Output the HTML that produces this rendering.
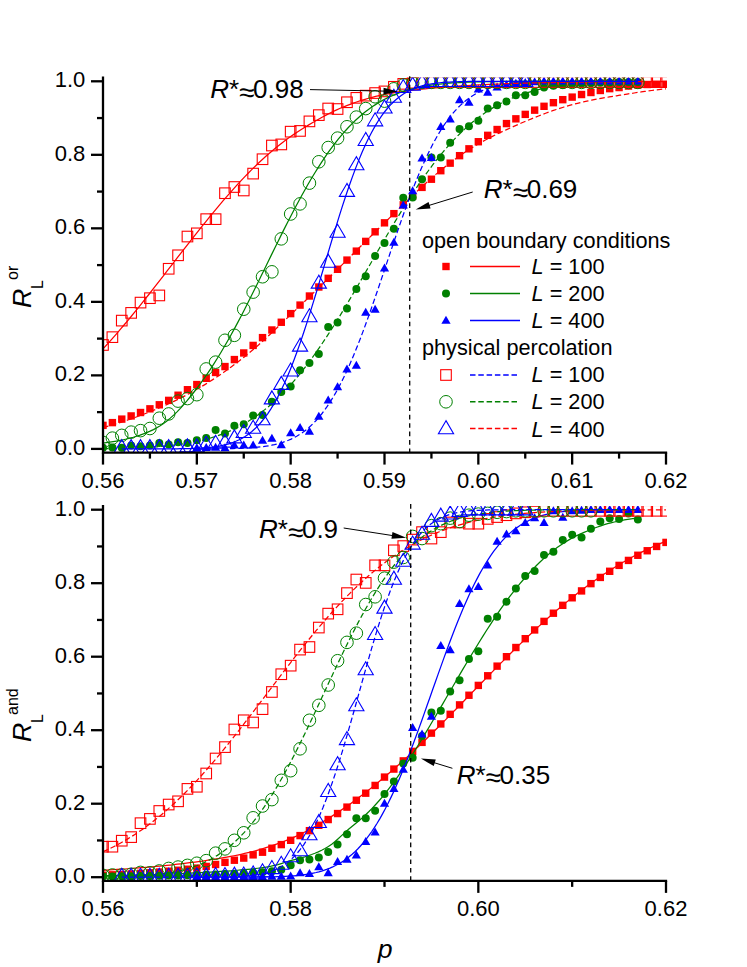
<!DOCTYPE html>
<html><head><meta charset="utf-8"><title>chart</title>
<style>
html,body{margin:0;padding:0;background:#fff;}
body{width:747px;height:967px;position:relative;overflow:hidden;font-family:"Liberation Sans",sans-serif;color:#000;}
i{font-style:italic}
</style></head><body>
<svg width="747" height="967" viewBox="0 0 747 967" style="position:absolute;left:0;top:0">
<defs>
<clipPath id="clip_top"><rect x="103.0" y="77.62" width="564.0" height="374.95"/></clipPath>
<clipPath id="clip_bot"><rect x="103.0" y="506.03" width="564.0" height="374.85"/></clipPath>
</defs>
<g clip-path="url(#clip_top)">
<polyline points="103.00,427.58 106.54,426.60 110.08,425.59 113.62,424.54 117.16,423.46 120.70,422.35 124.25,421.20 127.79,420.01 131.33,418.79 134.87,417.53 138.41,416.24 141.95,414.91 145.49,413.54 149.03,412.13 152.57,410.69 156.11,409.21 159.65,407.71 163.19,406.17 166.74,404.59 170.28,402.98 173.82,401.32 177.36,399.63 180.90,397.88 184.44,396.08 187.98,394.23 191.52,392.33 195.06,390.36 198.60,388.33 202.14,386.24 205.69,384.10 209.23,381.90 212.77,379.64 216.31,377.33 219.85,374.96 223.39,372.53 226.93,370.04 230.47,367.49 234.01,364.87 237.55,362.20 241.09,359.46 244.64,356.66 248.18,353.78 251.72,350.81 255.26,347.77 258.80,344.66 262.34,341.48 265.88,338.24 269.42,334.96 272.96,331.64 276.50,328.28 280.04,324.90 283.58,321.51 287.13,318.11 290.67,314.73 294.21,311.34 297.75,307.96 301.29,304.57 304.83,301.18 308.37,297.78 311.91,294.38 315.45,290.96 318.99,287.53 322.53,284.10 326.08,280.64 329.62,277.17 333.16,273.68 336.70,270.17 340.24,266.65 343.78,263.12 347.32,259.59 350.86,256.07 354.40,252.55 357.94,249.03 361.48,245.52 365.03,242.01 368.57,238.50 372.11,235.00 375.65,231.51 379.19,228.03 382.73,224.56 386.27,221.09 389.81,217.62 393.35,214.14 396.89,210.67 400.43,207.20 403.97,203.75 407.52,200.33 411.06,196.93 414.60,193.56 418.14,190.24 421.68,186.96 425.22,183.73 428.76,180.56 432.30,177.45 435.84,174.40 439.38,171.43 442.92,168.52 446.47,165.69 450.01,162.93 453.55,160.26 457.09,157.67 460.63,155.16 464.17,152.74 467.71,150.40 471.25,148.16 474.79,146.00 478.33,143.93 481.87,141.93 485.42,140.00 488.96,138.14 492.50,136.33 496.04,134.57 499.58,132.86 503.12,131.19 506.66,129.56 510.20,127.95 513.74,126.38 517.28,124.83 520.82,123.30 524.36,121.79 527.91,120.30 531.45,118.83 534.99,117.39 538.53,115.97 542.07,114.60 545.61,113.26 549.15,111.96 552.69,110.71 556.23,109.50 559.77,108.34 563.31,107.23 566.86,106.18 570.40,105.17 573.94,104.22 577.48,103.31 581.02,102.46 584.56,101.66 588.10,100.89 591.64,100.17 595.18,99.47 598.72,98.80 602.26,98.16 605.81,97.54 609.35,96.93 612.89,96.34 616.43,95.77 619.97,95.20 623.51,94.64 627.05,94.09 630.59,93.54 634.13,93.00 637.67,92.47 641.21,91.96 644.75,91.46 648.30,90.97 651.84,90.50 655.38,90.04 658.92,89.60 662.46,89.17 666.00,88.76" fill="none" stroke="#ff0000" stroke-width="1.25" stroke-dasharray="5.5 2.8"/>
<rect x="99.30" y="421.67" width="7.4" height="7.4" fill="#ff0000"/>
<rect x="108.68" y="418.92" width="7.4" height="7.4" fill="#ff0000"/>
<rect x="118.07" y="415.42" width="7.4" height="7.4" fill="#ff0000"/>
<rect x="127.45" y="412.23" width="7.4" height="7.4" fill="#ff0000"/>
<rect x="136.83" y="408.81" width="7.4" height="7.4" fill="#ff0000"/>
<rect x="146.22" y="405.13" width="7.4" height="7.4" fill="#ff0000"/>
<rect x="155.60" y="401.09" width="7.4" height="7.4" fill="#ff0000"/>
<rect x="164.98" y="396.68" width="7.4" height="7.4" fill="#ff0000"/>
<rect x="174.37" y="391.53" width="7.4" height="7.4" fill="#ff0000"/>
<rect x="183.75" y="386.02" width="7.4" height="7.4" fill="#ff0000"/>
<rect x="193.13" y="380.87" width="7.4" height="7.4" fill="#ff0000"/>
<rect x="202.52" y="374.62" width="7.4" height="7.4" fill="#ff0000"/>
<rect x="211.90" y="368.74" width="7.4" height="7.4" fill="#ff0000"/>
<rect x="221.28" y="362.86" width="7.4" height="7.4" fill="#ff0000"/>
<rect x="230.67" y="355.87" width="7.4" height="7.4" fill="#ff0000"/>
<rect x="240.05" y="349.26" width="7.4" height="7.4" fill="#ff0000"/>
<rect x="249.43" y="341.72" width="7.4" height="7.4" fill="#ff0000"/>
<rect x="258.82" y="333.93" width="7.4" height="7.4" fill="#ff0000"/>
<rect x="268.20" y="326.28" width="7.4" height="7.4" fill="#ff0000"/>
<rect x="277.58" y="318.56" width="7.4" height="7.4" fill="#ff0000"/>
<rect x="286.97" y="309.92" width="7.4" height="7.4" fill="#ff0000"/>
<rect x="296.35" y="301.39" width="7.4" height="7.4" fill="#ff0000"/>
<rect x="305.73" y="292.32" width="7.4" height="7.4" fill="#ff0000"/>
<rect x="315.12" y="283.31" width="7.4" height="7.4" fill="#ff0000"/>
<rect x="324.50" y="274.63" width="7.4" height="7.4" fill="#ff0000"/>
<rect x="333.88" y="265.59" width="7.4" height="7.4" fill="#ff0000"/>
<rect x="343.27" y="256.40" width="7.4" height="7.4" fill="#ff0000"/>
<rect x="352.65" y="247.43" width="7.4" height="7.4" fill="#ff0000"/>
<rect x="362.03" y="237.69" width="7.4" height="7.4" fill="#ff0000"/>
<rect x="371.42" y="228.10" width="7.4" height="7.4" fill="#ff0000"/>
<rect x="380.80" y="219.13" width="7.4" height="7.4" fill="#ff0000"/>
<rect x="390.18" y="209.94" width="7.4" height="7.4" fill="#ff0000"/>
<rect x="399.57" y="201.11" width="7.4" height="7.4" fill="#ff0000"/>
<rect x="408.95" y="192.29" width="7.4" height="7.4" fill="#ff0000"/>
<rect x="418.33" y="183.69" width="7.4" height="7.4" fill="#ff0000"/>
<rect x="427.72" y="175.53" width="7.4" height="7.4" fill="#ff0000"/>
<rect x="437.10" y="167.00" width="7.4" height="7.4" fill="#ff0000"/>
<rect x="446.48" y="159.46" width="7.4" height="7.4" fill="#ff0000"/>
<rect x="455.87" y="151.97" width="7.4" height="7.4" fill="#ff0000"/>
<rect x="465.25" y="145.13" width="7.4" height="7.4" fill="#ff0000"/>
<rect x="474.63" y="138.03" width="7.4" height="7.4" fill="#ff0000"/>
<rect x="484.02" y="131.64" width="7.4" height="7.4" fill="#ff0000"/>
<rect x="493.40" y="125.83" width="7.4" height="7.4" fill="#ff0000"/>
<rect x="502.78" y="119.87" width="7.4" height="7.4" fill="#ff0000"/>
<rect x="512.17" y="115.13" width="7.4" height="7.4" fill="#ff0000"/>
<rect x="521.55" y="110.68" width="7.4" height="7.4" fill="#ff0000"/>
<rect x="530.93" y="106.46" width="7.4" height="7.4" fill="#ff0000"/>
<rect x="540.32" y="102.60" width="7.4" height="7.4" fill="#ff0000"/>
<rect x="549.70" y="98.99" width="7.4" height="7.4" fill="#ff0000"/>
<rect x="559.08" y="95.98" width="7.4" height="7.4" fill="#ff0000"/>
<rect x="568.47" y="93.41" width="7.4" height="7.4" fill="#ff0000"/>
<rect x="577.85" y="90.83" width="7.4" height="7.4" fill="#ff0000"/>
<rect x="587.23" y="88.81" width="7.4" height="7.4" fill="#ff0000"/>
<rect x="596.62" y="86.79" width="7.4" height="7.4" fill="#ff0000"/>
<rect x="606.00" y="84.95" width="7.4" height="7.4" fill="#ff0000"/>
<rect x="615.38" y="83.85" width="7.4" height="7.4" fill="#ff0000"/>
<rect x="624.77" y="82.38" width="7.4" height="7.4" fill="#ff0000"/>
<rect x="634.15" y="81.39" width="7.4" height="7.4" fill="#ff0000"/>
<rect x="643.53" y="80.80" width="7.4" height="7.4" fill="#ff0000"/>
<rect x="652.92" y="80.54" width="7.4" height="7.4" fill="#ff0000"/>
<rect x="662.30" y="80.54" width="7.4" height="7.4" fill="#ff0000"/>
<polyline points="103.00,448.61 106.36,448.57 109.73,448.52 113.09,448.47 116.46,448.41 119.82,448.34 123.18,448.26 126.55,448.17 129.91,448.08 133.27,447.97 136.64,447.85 140.00,447.71 143.37,447.56 146.73,447.39 150.09,447.20 153.46,446.99 156.82,446.76 160.19,446.51 163.55,446.23 166.91,445.92 170.28,445.57 173.64,445.20 177.00,444.79 180.37,444.34 183.73,443.84 187.10,443.31 190.46,442.72 193.82,442.08 197.19,441.39 200.55,440.63 203.92,439.82 207.28,438.94 210.64,437.98 214.01,436.96 217.37,435.85 220.73,434.66 224.10,433.39 227.46,432.02 230.83,430.56 234.19,429.00 237.55,427.34 240.92,425.57 244.28,423.69 247.64,421.70 251.01,419.58 254.37,417.35 257.74,414.99 261.10,412.50 264.46,409.88 267.83,407.12 271.19,404.23 274.56,401.20 277.92,398.04 281.28,394.73 284.65,391.28 288.01,387.69 291.37,383.96 294.74,380.09 298.10,376.08 301.47,371.93 304.83,367.65 308.19,363.23 311.56,358.68 314.92,354.00 318.29,349.21 321.65,344.29 325.01,339.26 328.38,334.13 331.74,328.89 335.10,323.56 338.47,318.14 341.83,312.64 345.20,307.06 348.56,301.43 351.92,295.73 355.29,289.99 358.65,284.21 362.02,278.40 365.38,272.56 368.74,266.72 372.11,260.87 375.47,255.03 378.83,249.21 382.20,243.41 385.56,237.64 388.93,231.92 392.29,226.25 395.65,220.64 399.02,215.10 402.38,209.63 405.75,204.25 409.11,198.96 412.47,193.77 415.84,188.68 419.20,183.70 422.56,178.84 425.93,174.09 429.29,169.47 432.66,164.98 436.02,160.62 439.38,156.40 442.75,152.31 446.11,148.36 449.48,144.55 452.84,140.89 456.20,137.36 459.57,133.98 462.93,130.73 466.29,127.63 469.66,124.66 473.02,121.83 476.39,119.14 479.75,116.58 483.11,114.15 486.48,111.84 489.84,109.66 493.21,107.60 496.57,105.66 499.93,103.83 503.30,102.10 506.66,100.49 510.02,98.97 513.39,97.56 516.75,96.23 520.12,95.00 523.48,93.85 526.84,92.78 530.21,91.78 533.57,90.86 536.93,90.01 540.30,89.22 543.66,88.50 547.03,87.83 550.39,87.21 553.75,86.65 557.12,86.13 560.48,85.66 563.85,85.22 567.21,84.83 570.57,84.47 573.94,84.14 577.30,83.84 580.66,83.58 584.03,83.33 587.39,83.11 590.76,82.91 594.12,82.73 597.48,82.57 600.85,82.43 604.21,82.30 607.58,82.18 610.94,82.08 614.30,81.99 617.67,81.90 621.03,81.83 624.39,81.77 627.76,81.71 631.12,81.66 634.49,81.61 637.85,81.57" fill="none" stroke="#008000" stroke-width="1.25" stroke-dasharray="5.5 2.8"/>
<circle cx="103.00" cy="447.80" r="4.0" fill="#008000"/>
<circle cx="112.38" cy="447.43" r="4.0" fill="#008000"/>
<circle cx="121.77" cy="447.80" r="4.0" fill="#008000"/>
<circle cx="131.15" cy="445.59" r="4.0" fill="#008000"/>
<circle cx="140.53" cy="446.33" r="4.0" fill="#008000"/>
<circle cx="149.92" cy="445.59" r="4.0" fill="#008000"/>
<circle cx="159.30" cy="443.02" r="4.0" fill="#008000"/>
<circle cx="168.68" cy="444.49" r="4.0" fill="#008000"/>
<circle cx="178.07" cy="442.28" r="4.0" fill="#008000"/>
<circle cx="187.45" cy="443.02" r="4.0" fill="#008000"/>
<circle cx="196.83" cy="440.22" r="4.0" fill="#008000"/>
<circle cx="206.22" cy="438.09" r="4.0" fill="#008000"/>
<circle cx="215.60" cy="429.97" r="4.0" fill="#008000"/>
<circle cx="224.98" cy="433.61" r="4.0" fill="#008000"/>
<circle cx="234.37" cy="425.67" r="4.0" fill="#008000"/>
<circle cx="243.75" cy="424.16" r="4.0" fill="#008000"/>
<circle cx="253.13" cy="415.41" r="4.0" fill="#008000"/>
<circle cx="262.52" cy="415.08" r="4.0" fill="#008000"/>
<circle cx="271.90" cy="401.70" r="4.0" fill="#008000"/>
<circle cx="281.28" cy="392.03" r="4.0" fill="#008000"/>
<circle cx="290.67" cy="386.48" r="4.0" fill="#008000"/>
<circle cx="300.05" cy="370.23" r="4.0" fill="#008000"/>
<circle cx="309.43" cy="362.88" r="4.0" fill="#008000"/>
<circle cx="318.82" cy="353.91" r="4.0" fill="#008000"/>
<circle cx="328.20" cy="327.11" r="4.0" fill="#008000"/>
<circle cx="337.58" cy="322.41" r="4.0" fill="#008000"/>
<circle cx="346.97" cy="308.48" r="4.0" fill="#008000"/>
<circle cx="356.35" cy="288.99" r="4.0" fill="#008000"/>
<circle cx="365.73" cy="276.13" r="4.0" fill="#008000"/>
<circle cx="375.12" cy="255.98" r="4.0" fill="#008000"/>
<circle cx="384.50" cy="243.12" r="4.0" fill="#008000"/>
<circle cx="393.88" cy="228.71" r="4.0" fill="#008000"/>
<circle cx="403.27" cy="197.83" r="4.0" fill="#008000"/>
<circle cx="412.65" cy="197.46" r="4.0" fill="#008000"/>
<circle cx="422.03" cy="179.23" r="4.0" fill="#008000"/>
<circle cx="431.42" cy="157.39" r="4.0" fill="#008000"/>
<circle cx="440.80" cy="157.39" r="4.0" fill="#008000"/>
<circle cx="450.18" cy="142.84" r="4.0" fill="#008000"/>
<circle cx="459.57" cy="128.90" r="4.0" fill="#008000"/>
<circle cx="468.95" cy="126.15" r="4.0" fill="#008000"/>
<circle cx="478.33" cy="120.78" r="4.0" fill="#008000"/>
<circle cx="487.72" cy="108.58" r="4.0" fill="#008000"/>
<circle cx="497.10" cy="105.34" r="4.0" fill="#008000"/>
<circle cx="506.48" cy="101.52" r="4.0" fill="#008000"/>
<circle cx="515.87" cy="95.27" r="4.0" fill="#008000"/>
<circle cx="525.25" cy="95.27" r="4.0" fill="#008000"/>
<circle cx="534.63" cy="92.07" r="4.0" fill="#008000"/>
<circle cx="544.02" cy="87.55" r="4.0" fill="#008000"/>
<circle cx="553.40" cy="85.71" r="4.0" fill="#008000"/>
<circle cx="562.78" cy="84.98" r="4.0" fill="#008000"/>
<circle cx="572.17" cy="84.24" r="4.0" fill="#008000"/>
<circle cx="581.55" cy="83.87" r="4.0" fill="#008000"/>
<circle cx="590.93" cy="83.14" r="4.0" fill="#008000"/>
<circle cx="600.32" cy="82.77" r="4.0" fill="#008000"/>
<circle cx="609.70" cy="82.40" r="4.0" fill="#008000"/>
<circle cx="619.08" cy="82.04" r="4.0" fill="#008000"/>
<circle cx="628.47" cy="82.04" r="4.0" fill="#008000"/>
<circle cx="637.85" cy="82.04" r="4.0" fill="#008000"/>
<polyline points="196.83,448.88 199.61,448.87 202.38,448.87 205.15,448.86 207.93,448.85 210.70,448.83 213.48,448.82 216.25,448.80 219.02,448.78 221.80,448.75 224.57,448.71 227.34,448.67 230.12,448.62 232.89,448.56 235.66,448.49 238.44,448.41 241.21,448.31 243.99,448.19 246.76,448.05 249.53,447.89 252.31,447.70 255.08,447.48 257.85,447.23 260.63,446.93 263.40,446.59 266.18,446.19 268.95,445.74 271.72,445.22 274.50,444.63 277.27,443.96 280.04,443.20 282.82,442.34 285.59,441.37 288.37,440.29 291.14,439.08 293.91,437.72 296.69,436.22 299.46,434.55 302.23,432.71 305.01,430.68 307.78,428.46 310.55,426.03 313.33,423.37 316.10,420.49 318.88,417.36 321.65,413.99 324.42,410.35 327.20,406.45 329.97,402.27 332.74,397.82 335.52,393.09 338.29,388.07 341.07,382.78 343.84,377.20 346.61,371.34 349.39,365.21 352.16,358.82 354.93,352.18 357.71,345.29 360.48,338.18 363.25,330.85 366.03,323.33 368.80,315.63 371.58,307.78 374.35,299.80 377.12,291.71 379.90,283.54 382.67,275.31 385.44,267.04 388.22,258.77 390.99,250.52 393.77,242.32 396.54,234.18 399.31,226.15 402.09,218.23 404.86,210.46 407.63,202.86 410.41,195.44 413.18,188.22 415.95,181.22 418.73,174.46 421.50,167.95 424.28,161.70 427.05,155.72 429.82,150.01 432.60,144.58 435.37,139.43 438.14,134.56 440.92,129.98 443.69,125.68 446.47,121.65 449.24,117.89 452.01,114.39 454.79,111.15 457.56,108.15 460.33,105.39 463.11,102.86 465.88,100.54 468.65,98.42 471.43,96.49 474.20,94.74 476.98,93.16 479.75,91.74 482.52,90.46 485.30,89.32 488.07,88.30 490.84,87.39 493.62,86.59 496.39,85.87 499.17,85.25 501.94,84.69 504.71,84.21 507.49,83.79 510.26,83.42 513.03,83.11 515.81,82.83 518.58,82.60 521.36,82.39 524.13,82.22 526.90,82.07 529.68,81.94 532.45,81.84 535.22,81.75 538.00,81.67 540.77,81.60 543.54,81.55 546.32,81.51 549.09,81.47 551.87,81.44 554.64,81.41 557.41,81.39 560.19,81.37 562.96,81.36 565.73,81.35 568.51,81.34 571.28,81.33 574.06,81.32 576.83,81.32 579.60,81.32 582.38,81.31 585.15,81.31 587.92,81.31 590.70,81.31 593.47,81.30 596.24,81.30 599.02,81.30 601.79,81.30 604.57,81.30 607.34,81.30 610.11,81.30 612.89,81.30 615.66,81.30 618.43,81.30 621.21,81.30 623.98,81.30 626.76,81.30 629.53,81.30 632.30,81.30 635.08,81.30 637.85,81.30" fill="none" stroke="#0000ff" stroke-width="1.25" stroke-dasharray="5.5 2.8"/>
<polygon points="196.83,443.36 192.23,451.36 201.43,451.36" fill="#0000ff"/>
<polygon points="206.22,443.00 201.62,451.00 210.82,451.00" fill="#0000ff"/>
<polygon points="215.60,442.63 211.00,450.63 220.20,450.63" fill="#0000ff"/>
<polygon points="224.98,443.36 220.38,451.36 229.58,451.36" fill="#0000ff"/>
<polygon points="234.37,440.57 229.77,448.57 238.97,448.57" fill="#0000ff"/>
<polygon points="243.75,440.57 239.15,448.57 248.35,448.57" fill="#0000ff"/>
<polygon points="253.13,440.57 248.53,448.57 257.73,448.57" fill="#0000ff"/>
<polygon points="262.52,435.87 257.92,443.87 267.12,443.87" fill="#0000ff"/>
<polygon points="271.90,433.73 267.30,441.73 276.50,441.73" fill="#0000ff"/>
<polygon points="281.28,440.17 276.68,448.17 285.88,448.17" fill="#0000ff"/>
<polygon points="290.67,428.37 286.07,436.37 295.27,436.37" fill="#0000ff"/>
<polygon points="300.05,423.00 295.45,431.00 304.65,431.00" fill="#0000ff"/>
<polygon points="309.43,426.86 304.83,434.86 314.03,434.86" fill="#0000ff"/>
<polygon points="318.82,411.86 314.22,419.86 323.42,419.86" fill="#0000ff"/>
<polygon points="328.20,395.58 323.60,403.58 332.80,403.58" fill="#0000ff"/>
<polygon points="337.58,382.34 332.98,390.34 342.18,390.34" fill="#0000ff"/>
<polygon points="346.97,364.48 342.37,372.48 351.57,372.48" fill="#0000ff"/>
<polygon points="356.35,360.84 351.75,368.84 360.95,368.84" fill="#0000ff"/>
<polygon points="365.73,307.72 361.13,315.72 370.33,315.72" fill="#0000ff"/>
<polygon points="375.12,304.78 370.52,312.78 379.72,312.78" fill="#0000ff"/>
<polygon points="384.50,263.39 379.90,271.39 389.10,271.39" fill="#0000ff"/>
<polygon points="393.88,237.69 389.28,245.69 398.48,245.69" fill="#0000ff"/>
<polygon points="403.27,200.60 398.67,208.60 407.87,208.60" fill="#0000ff"/>
<polygon points="412.65,186.23 408.05,194.23 417.25,194.23" fill="#0000ff"/>
<polygon points="422.03,153.44 417.43,161.44 426.63,161.44" fill="#0000ff"/>
<polygon points="431.42,152.96 426.82,160.96 436.02,160.96" fill="#0000ff"/>
<polygon points="440.80,122.08 436.20,130.08 445.40,130.08" fill="#0000ff"/>
<polygon points="450.18,114.51 445.58,122.51 454.78,122.51" fill="#0000ff"/>
<polygon points="459.57,95.25 454.97,103.25 464.17,103.25" fill="#0000ff"/>
<polygon points="468.95,97.82 464.35,105.82 473.55,105.82" fill="#0000ff"/>
<polygon points="478.33,84.59 473.73,92.59 482.93,92.59" fill="#0000ff"/>
<polygon points="487.72,87.68 483.12,95.68 492.32,95.68" fill="#0000ff"/>
<polygon points="497.10,82.38 492.50,90.38 501.70,90.38" fill="#0000ff"/>
<polygon points="506.48,80.18 501.88,88.18 511.08,88.18" fill="#0000ff"/>
<polygon points="515.87,78.71 511.27,86.71 520.47,86.71" fill="#0000ff"/>
<polygon points="525.25,77.97 520.65,85.97 529.85,85.97" fill="#0000ff"/>
<polygon points="534.63,77.24 530.03,85.24 539.23,85.24" fill="#0000ff"/>
<polygon points="544.02,76.50 539.42,84.50 548.62,84.50" fill="#0000ff"/>
<polygon points="553.40,76.50 548.80,84.50 558.00,84.50" fill="#0000ff"/>
<polygon points="562.78,76.50 558.18,84.50 567.38,84.50" fill="#0000ff"/>
<polygon points="572.17,76.50 567.57,84.50 576.77,84.50" fill="#0000ff"/>
<polygon points="581.55,76.50 576.95,84.50 586.15,84.50" fill="#0000ff"/>
<polygon points="590.93,76.50 586.33,84.50 595.53,84.50" fill="#0000ff"/>
<polygon points="600.32,76.50 595.72,84.50 604.92,84.50" fill="#0000ff"/>
<polygon points="609.70,76.50 605.10,84.50 614.30,84.50" fill="#0000ff"/>
<polygon points="619.08,76.50 614.48,84.50 623.68,84.50" fill="#0000ff"/>
<polygon points="628.47,76.50 623.87,84.50 633.07,84.50" fill="#0000ff"/>
<polygon points="637.85,76.50 633.25,84.50 642.45,84.50" fill="#0000ff"/>
<polyline points="103.00,348.87 106.54,345.02 110.08,341.10 113.62,337.12 117.16,333.06 120.70,328.95 124.25,324.78 127.79,320.55 131.33,316.27 134.87,311.95 138.41,307.58 141.95,303.17 145.49,298.72 149.03,294.24 152.57,289.73 156.11,285.20 159.65,280.64 163.19,276.06 166.74,271.48 170.28,266.89 173.82,262.30 177.36,257.71 180.90,253.13 184.44,248.57 187.98,244.03 191.52,239.52 195.06,235.03 198.60,230.58 202.14,226.16 205.69,221.77 209.23,217.41 212.77,213.09 216.31,208.82 219.85,204.61 223.39,200.44 226.93,196.34 230.47,192.31 234.01,188.34 237.55,184.45 241.09,180.63 244.64,176.89 248.18,173.24 251.72,169.67 255.26,166.19 258.80,162.80 262.34,159.49 265.88,156.29 269.42,153.17 272.96,150.15 276.50,147.23 280.04,144.40 283.58,141.67 287.13,139.06 290.67,136.55 294.21,134.13 297.75,131.79 301.29,129.51 304.83,127.30 308.37,125.15 311.91,123.04 315.45,120.97 318.99,118.95 322.53,116.99 326.08,115.10 329.62,113.28 333.16,111.53 336.70,109.87 340.24,108.30 343.78,106.82 347.32,105.40 350.86,104.05 354.40,102.76 357.94,101.53 361.48,100.37 365.03,99.28 368.57,98.27 372.11,97.33 375.65,96.47 379.19,95.67 382.73,94.93 386.27,94.23 389.81,93.58 393.35,92.97 396.89,92.40 400.43,91.85 403.97,91.34 407.52,90.86 411.06,90.40 414.60,89.96 418.14,89.56 421.68,89.17 425.22,88.81 428.76,88.46 432.30,88.13 435.84,87.81 439.38,87.51 442.92,87.22 446.47,86.95 450.01,86.69 453.55,86.44 457.09,86.21 460.63,85.98 464.17,85.76 467.71,85.56 471.25,85.36 474.79,85.16 478.33,84.98 481.87,84.80 485.42,84.62 488.96,84.46 492.50,84.30 496.04,84.14 499.58,84.00 503.12,83.86 506.66,83.73 510.20,83.60 513.74,83.48 517.28,83.37 520.82,83.26 524.36,83.16 527.91,83.07 531.45,82.98 534.99,82.89 538.53,82.81 542.07,82.73 545.61,82.66 549.15,82.59 552.69,82.52 556.23,82.46 559.77,82.40 563.31,82.34 566.86,82.29 570.40,82.24 573.94,82.20 577.48,82.15 581.02,82.11 584.56,82.07 588.10,82.03 591.64,82.00 595.18,81.96 598.72,81.93 602.26,81.90 605.81,81.87 609.35,81.85 612.89,81.82 616.43,81.79 619.97,81.77 623.51,81.75 627.05,81.73 630.59,81.71 634.13,81.69 637.67,81.67 641.21,81.65 644.75,81.64 648.30,81.62 651.84,81.61 655.38,81.59 658.92,81.58 662.46,81.57 666.00,81.56" fill="none" stroke="#ff0000" stroke-width="1.25"/>
<rect x="97.70" y="339.68" width="10.6" height="10.6" fill="none" stroke="#ff0000" stroke-width="1.1"/>
<rect x="107.08" y="331.85" width="10.6" height="10.6" fill="none" stroke="#ff0000" stroke-width="1.1"/>
<rect x="116.47" y="315.31" width="10.6" height="10.6" fill="none" stroke="#ff0000" stroke-width="1.1"/>
<rect x="125.85" y="307.59" width="10.6" height="10.6" fill="none" stroke="#ff0000" stroke-width="1.1"/>
<rect x="135.23" y="297.30" width="10.6" height="10.6" fill="none" stroke="#ff0000" stroke-width="1.1"/>
<rect x="144.62" y="292.88" width="10.6" height="10.6" fill="none" stroke="#ff0000" stroke-width="1.1"/>
<rect x="154.00" y="290.13" width="10.6" height="10.6" fill="none" stroke="#ff0000" stroke-width="1.1"/>
<rect x="163.38" y="263.48" width="10.6" height="10.6" fill="none" stroke="#ff0000" stroke-width="1.1"/>
<rect x="172.77" y="249.99" width="10.6" height="10.6" fill="none" stroke="#ff0000" stroke-width="1.1"/>
<rect x="182.15" y="231.24" width="10.6" height="10.6" fill="none" stroke="#ff0000" stroke-width="1.1"/>
<rect x="191.53" y="228.04" width="10.6" height="10.6" fill="none" stroke="#ff0000" stroke-width="1.1"/>
<rect x="200.92" y="213.85" width="10.6" height="10.6" fill="none" stroke="#ff0000" stroke-width="1.1"/>
<rect x="210.30" y="213.85" width="10.6" height="10.6" fill="none" stroke="#ff0000" stroke-width="1.1"/>
<rect x="219.68" y="187.90" width="10.6" height="10.6" fill="none" stroke="#ff0000" stroke-width="1.1"/>
<rect x="229.07" y="181.72" width="10.6" height="10.6" fill="none" stroke="#ff0000" stroke-width="1.1"/>
<rect x="238.45" y="185.18" width="10.6" height="10.6" fill="none" stroke="#ff0000" stroke-width="1.1"/>
<rect x="247.83" y="168.30" width="10.6" height="10.6" fill="none" stroke="#ff0000" stroke-width="1.1"/>
<rect x="257.22" y="153.93" width="10.6" height="10.6" fill="none" stroke="#ff0000" stroke-width="1.1"/>
<rect x="266.60" y="140.22" width="10.6" height="10.6" fill="none" stroke="#ff0000" stroke-width="1.1"/>
<rect x="275.98" y="139.12" width="10.6" height="10.6" fill="none" stroke="#ff0000" stroke-width="1.1"/>
<rect x="285.37" y="126.36" width="10.6" height="10.6" fill="none" stroke="#ff0000" stroke-width="1.1"/>
<rect x="294.75" y="125.63" width="10.6" height="10.6" fill="none" stroke="#ff0000" stroke-width="1.1"/>
<rect x="304.13" y="116.07" width="10.6" height="10.6" fill="none" stroke="#ff0000" stroke-width="1.1"/>
<rect x="313.52" y="109.82" width="10.6" height="10.6" fill="none" stroke="#ff0000" stroke-width="1.1"/>
<rect x="322.90" y="103.20" width="10.6" height="10.6" fill="none" stroke="#ff0000" stroke-width="1.1"/>
<rect x="332.28" y="103.72" width="10.6" height="10.6" fill="none" stroke="#ff0000" stroke-width="1.1"/>
<rect x="341.67" y="96.95" width="10.6" height="10.6" fill="none" stroke="#ff0000" stroke-width="1.1"/>
<rect x="351.05" y="92.54" width="10.6" height="10.6" fill="none" stroke="#ff0000" stroke-width="1.1"/>
<rect x="360.43" y="90.34" width="10.6" height="10.6" fill="none" stroke="#ff0000" stroke-width="1.1"/>
<rect x="369.82" y="87.76" width="10.6" height="10.6" fill="none" stroke="#ff0000" stroke-width="1.1"/>
<rect x="379.20" y="86.11" width="10.6" height="10.6" fill="none" stroke="#ff0000" stroke-width="1.1"/>
<rect x="388.58" y="81.51" width="10.6" height="10.6" fill="none" stroke="#ff0000" stroke-width="1.1"/>
<rect x="397.97" y="78.57" width="10.6" height="10.6" fill="none" stroke="#ff0000" stroke-width="1.1"/>
<rect x="407.35" y="77.47" width="10.6" height="10.6" fill="none" stroke="#ff0000" stroke-width="1.1"/>
<rect x="416.73" y="76.74" width="10.6" height="10.6" fill="none" stroke="#ff0000" stroke-width="1.1"/>
<rect x="426.12" y="76.74" width="10.6" height="10.6" fill="none" stroke="#ff0000" stroke-width="1.1"/>
<rect x="435.50" y="76.74" width="10.6" height="10.6" fill="none" stroke="#ff0000" stroke-width="1.1"/>
<rect x="444.88" y="76.74" width="10.6" height="10.6" fill="none" stroke="#ff0000" stroke-width="1.1"/>
<rect x="454.27" y="76.74" width="10.6" height="10.6" fill="none" stroke="#ff0000" stroke-width="1.1"/>
<rect x="463.65" y="76.74" width="10.6" height="10.6" fill="none" stroke="#ff0000" stroke-width="1.1"/>
<rect x="473.03" y="76.74" width="10.6" height="10.6" fill="none" stroke="#ff0000" stroke-width="1.1"/>
<rect x="482.42" y="76.74" width="10.6" height="10.6" fill="none" stroke="#ff0000" stroke-width="1.1"/>
<rect x="491.80" y="76.74" width="10.6" height="10.6" fill="none" stroke="#ff0000" stroke-width="1.1"/>
<rect x="501.18" y="76.74" width="10.6" height="10.6" fill="none" stroke="#ff0000" stroke-width="1.1"/>
<rect x="510.57" y="76.74" width="10.6" height="10.6" fill="none" stroke="#ff0000" stroke-width="1.1"/>
<rect x="519.95" y="76.74" width="10.6" height="10.6" fill="none" stroke="#ff0000" stroke-width="1.1"/>
<rect x="529.33" y="76.74" width="10.6" height="10.6" fill="none" stroke="#ff0000" stroke-width="1.1"/>
<rect x="538.72" y="76.74" width="10.6" height="10.6" fill="none" stroke="#ff0000" stroke-width="1.1"/>
<rect x="548.10" y="76.74" width="10.6" height="10.6" fill="none" stroke="#ff0000" stroke-width="1.1"/>
<rect x="557.48" y="76.74" width="10.6" height="10.6" fill="none" stroke="#ff0000" stroke-width="1.1"/>
<rect x="566.87" y="76.74" width="10.6" height="10.6" fill="none" stroke="#ff0000" stroke-width="1.1"/>
<rect x="576.25" y="76.74" width="10.6" height="10.6" fill="none" stroke="#ff0000" stroke-width="1.1"/>
<rect x="585.63" y="76.74" width="10.6" height="10.6" fill="none" stroke="#ff0000" stroke-width="1.1"/>
<rect x="595.02" y="76.74" width="10.6" height="10.6" fill="none" stroke="#ff0000" stroke-width="1.1"/>
<rect x="604.40" y="76.74" width="10.6" height="10.6" fill="none" stroke="#ff0000" stroke-width="1.1"/>
<rect x="613.78" y="76.74" width="10.6" height="10.6" fill="none" stroke="#ff0000" stroke-width="1.1"/>
<rect x="623.17" y="76.74" width="10.6" height="10.6" fill="none" stroke="#ff0000" stroke-width="1.1"/>
<rect x="632.55" y="76.74" width="10.6" height="10.6" fill="none" stroke="#ff0000" stroke-width="1.1"/>
<rect x="641.93" y="76.74" width="10.6" height="10.6" fill="none" stroke="#ff0000" stroke-width="1.1"/>
<rect x="651.32" y="76.74" width="10.6" height="10.6" fill="none" stroke="#ff0000" stroke-width="1.1"/>
<rect x="660.70" y="76.74" width="10.6" height="10.6" fill="none" stroke="#ff0000" stroke-width="1.1"/>
<polyline points="103.00,443.02 106.36,442.60 109.73,442.14 113.09,441.63 116.46,441.06 119.82,440.44 123.18,439.75 126.55,438.99 129.91,438.15 133.27,437.24 136.64,436.23 140.00,435.13 143.37,433.93 146.73,432.61 150.09,431.18 153.46,429.57 156.82,427.76 160.19,425.72 163.55,423.44 166.91,420.91 170.28,418.14 173.64,415.11 177.00,411.84 180.37,408.32 183.73,404.58 187.10,400.63 190.46,396.50 193.82,392.24 197.19,387.87 200.55,383.36 203.92,378.68 207.28,373.83 210.64,368.80 214.01,363.61 217.37,358.25 220.73,352.73 224.10,347.05 227.46,341.22 230.83,335.24 234.19,329.11 237.55,322.85 240.92,316.45 244.28,309.92 247.64,303.29 251.01,296.58 254.37,289.80 257.74,282.97 261.10,276.09 264.46,269.19 267.83,262.29 271.19,255.38 274.56,248.50 277.92,241.66 281.28,234.87 284.65,228.14 288.01,221.50 291.37,214.95 294.74,208.50 298.10,202.18 301.47,195.98 304.83,189.93 308.19,184.02 311.56,178.28 314.92,172.71 318.29,167.31 321.65,162.09 325.01,157.06 328.38,152.22 331.74,147.58 335.10,143.13 338.47,138.87 341.83,134.82 345.20,130.96 348.56,127.29 351.92,123.82 355.29,120.54 358.65,117.45 362.02,114.54 365.38,111.80 368.74,109.24 372.11,106.85 375.47,104.62 378.83,102.54 382.20,100.61 385.56,98.82 388.93,97.17 392.29,95.64 395.65,94.24 399.02,92.95 402.38,91.77 405.75,90.69 409.11,89.71 412.47,88.81 415.84,88.00 419.20,87.26 422.56,86.59 425.93,85.99 429.29,85.45 432.66,84.96 436.02,84.53 439.38,84.14 442.75,83.79 446.11,83.48 449.48,83.21 452.84,82.96 456.20,82.75 459.57,82.56 462.93,82.39 466.29,82.24 469.66,82.11 473.02,82.00 476.39,81.90 479.75,81.82 483.11,81.74 486.48,81.68 489.84,81.62 493.21,81.58 496.57,81.53 499.93,81.50 503.30,81.47 506.66,81.44 510.02,81.42 513.39,81.40 516.75,81.38 520.12,81.37 523.48,81.36 526.84,81.35 530.21,81.34 533.57,81.33 536.93,81.33 540.30,81.32 543.66,81.32 547.03,81.32 550.39,81.31 553.75,81.31 557.12,81.31 560.48,81.31 563.85,81.31 567.21,81.30 570.57,81.30 573.94,81.30 577.30,81.30 580.66,81.30 584.03,81.30 587.39,81.30 590.76,81.30 594.12,81.30 597.48,81.30 600.85,81.30 604.21,81.30 607.58,81.30 610.94,81.30 614.30,81.30 617.67,81.30 621.03,81.30 624.39,81.30 627.76,81.30 631.12,81.30 634.49,81.30 637.85,81.30" fill="none" stroke="#008000" stroke-width="1.25"/>
<circle cx="103.00" cy="442.39" r="6.3" fill="none" stroke="#008000" stroke-width="1"/>
<circle cx="112.38" cy="438.13" r="6.3" fill="none" stroke="#008000" stroke-width="1"/>
<circle cx="121.77" cy="435.37" r="6.3" fill="none" stroke="#008000" stroke-width="1"/>
<circle cx="131.15" cy="432.14" r="6.3" fill="none" stroke="#008000" stroke-width="1"/>
<circle cx="140.53" cy="430.63" r="6.3" fill="none" stroke="#008000" stroke-width="1"/>
<circle cx="149.92" cy="428.50" r="6.3" fill="none" stroke="#008000" stroke-width="1"/>
<circle cx="159.30" cy="418.21" r="6.3" fill="none" stroke="#008000" stroke-width="1"/>
<circle cx="168.68" cy="413.94" r="6.3" fill="none" stroke="#008000" stroke-width="1"/>
<circle cx="178.07" cy="401.11" r="6.3" fill="none" stroke="#008000" stroke-width="1"/>
<circle cx="187.45" cy="398.54" r="6.3" fill="none" stroke="#008000" stroke-width="1"/>
<circle cx="196.83" cy="394.68" r="6.3" fill="none" stroke="#008000" stroke-width="1"/>
<circle cx="206.22" cy="368.95" r="6.3" fill="none" stroke="#008000" stroke-width="1"/>
<circle cx="215.60" cy="362.15" r="6.3" fill="none" stroke="#008000" stroke-width="1"/>
<circle cx="224.98" cy="340.27" r="6.3" fill="none" stroke="#008000" stroke-width="1"/>
<circle cx="234.37" cy="335.31" r="6.3" fill="none" stroke="#008000" stroke-width="1"/>
<circle cx="243.75" cy="309.21" r="6.3" fill="none" stroke="#008000" stroke-width="1"/>
<circle cx="253.13" cy="292.12" r="6.3" fill="none" stroke="#008000" stroke-width="1"/>
<circle cx="262.52" cy="276.75" r="6.3" fill="none" stroke="#008000" stroke-width="1"/>
<circle cx="271.90" cy="271.83" r="6.3" fill="none" stroke="#008000" stroke-width="1"/>
<circle cx="281.28" cy="238.85" r="6.3" fill="none" stroke="#008000" stroke-width="1"/>
<circle cx="290.67" cy="214.00" r="6.3" fill="none" stroke="#008000" stroke-width="1"/>
<circle cx="300.05" cy="203.89" r="6.3" fill="none" stroke="#008000" stroke-width="1"/>
<circle cx="309.43" cy="183.13" r="6.3" fill="none" stroke="#008000" stroke-width="1"/>
<circle cx="318.82" cy="161.80" r="6.3" fill="none" stroke="#008000" stroke-width="1"/>
<circle cx="328.20" cy="147.54" r="6.3" fill="none" stroke="#008000" stroke-width="1"/>
<circle cx="337.58" cy="138.13" r="6.3" fill="none" stroke="#008000" stroke-width="1"/>
<circle cx="346.97" cy="126.77" r="6.3" fill="none" stroke="#008000" stroke-width="1"/>
<circle cx="356.35" cy="117.10" r="6.3" fill="none" stroke="#008000" stroke-width="1"/>
<circle cx="365.73" cy="108.58" r="6.3" fill="none" stroke="#008000" stroke-width="1"/>
<circle cx="375.12" cy="96.74" r="6.3" fill="none" stroke="#008000" stroke-width="1"/>
<circle cx="384.50" cy="101.15" r="6.3" fill="none" stroke="#008000" stroke-width="1"/>
<circle cx="393.88" cy="88.84" r="6.3" fill="none" stroke="#008000" stroke-width="1"/>
<circle cx="403.27" cy="84.98" r="6.3" fill="none" stroke="#008000" stroke-width="1"/>
<circle cx="412.65" cy="83.14" r="6.3" fill="none" stroke="#008000" stroke-width="1"/>
<circle cx="422.03" cy="82.40" r="6.3" fill="none" stroke="#008000" stroke-width="1"/>
<circle cx="431.42" cy="82.40" r="6.3" fill="none" stroke="#008000" stroke-width="1"/>
<circle cx="440.80" cy="82.40" r="6.3" fill="none" stroke="#008000" stroke-width="1"/>
<circle cx="450.18" cy="82.40" r="6.3" fill="none" stroke="#008000" stroke-width="1"/>
<circle cx="459.57" cy="82.40" r="6.3" fill="none" stroke="#008000" stroke-width="1"/>
<circle cx="468.95" cy="82.40" r="6.3" fill="none" stroke="#008000" stroke-width="1"/>
<circle cx="478.33" cy="82.40" r="6.3" fill="none" stroke="#008000" stroke-width="1"/>
<circle cx="487.72" cy="82.40" r="6.3" fill="none" stroke="#008000" stroke-width="1"/>
<circle cx="497.10" cy="82.40" r="6.3" fill="none" stroke="#008000" stroke-width="1"/>
<circle cx="506.48" cy="82.40" r="6.3" fill="none" stroke="#008000" stroke-width="1"/>
<circle cx="515.87" cy="82.40" r="6.3" fill="none" stroke="#008000" stroke-width="1"/>
<circle cx="525.25" cy="82.40" r="6.3" fill="none" stroke="#008000" stroke-width="1"/>
<circle cx="534.63" cy="82.40" r="6.3" fill="none" stroke="#008000" stroke-width="1"/>
<circle cx="544.02" cy="82.40" r="6.3" fill="none" stroke="#008000" stroke-width="1"/>
<circle cx="553.40" cy="82.40" r="6.3" fill="none" stroke="#008000" stroke-width="1"/>
<circle cx="562.78" cy="82.40" r="6.3" fill="none" stroke="#008000" stroke-width="1"/>
<circle cx="572.17" cy="82.40" r="6.3" fill="none" stroke="#008000" stroke-width="1"/>
<circle cx="581.55" cy="82.40" r="6.3" fill="none" stroke="#008000" stroke-width="1"/>
<circle cx="590.93" cy="82.40" r="6.3" fill="none" stroke="#008000" stroke-width="1"/>
<circle cx="600.32" cy="82.40" r="6.3" fill="none" stroke="#008000" stroke-width="1"/>
<circle cx="609.70" cy="82.40" r="6.3" fill="none" stroke="#008000" stroke-width="1"/>
<circle cx="619.08" cy="82.40" r="6.3" fill="none" stroke="#008000" stroke-width="1"/>
<circle cx="628.47" cy="82.40" r="6.3" fill="none" stroke="#008000" stroke-width="1"/>
<circle cx="637.85" cy="82.40" r="6.3" fill="none" stroke="#008000" stroke-width="1"/>
<polyline points="121.77,448.90 125.01,448.90 128.26,448.90 131.50,448.90 134.75,448.90 138.00,448.90 141.24,448.90 144.49,448.89 147.73,448.89 150.98,448.89 154.22,448.88 157.47,448.88 160.72,448.87 163.96,448.86 167.21,448.85 170.45,448.83 173.70,448.80 176.95,448.77 180.19,448.73 183.44,448.68 186.68,448.62 189.93,448.54 193.17,448.44 196.42,448.31 199.67,448.15 202.91,447.95 206.16,447.71 209.40,447.41 212.65,447.05 215.90,446.61 219.14,446.08 222.39,445.44 225.63,444.68 228.88,443.79 232.12,442.73 235.37,441.49 238.62,440.04 241.86,438.37 245.11,436.43 248.35,434.22 251.60,431.70 254.84,428.84 258.09,425.62 261.34,422.01 264.58,417.98 267.83,413.52 271.07,408.60 274.32,403.21 277.57,397.34 280.81,390.97 284.06,384.10 287.30,376.75 290.55,368.90 293.79,360.59 297.04,351.83 300.29,342.64 303.53,333.06 306.78,323.14 310.02,312.91 313.27,302.42 316.52,291.73 319.76,280.89 323.01,269.96 326.25,259.01 329.50,248.09 332.74,237.26 335.99,226.59 339.24,216.13 342.48,205.93 345.73,196.04 348.97,186.50 352.22,177.36 355.46,168.65 358.71,160.39 361.96,152.60 365.20,145.30 368.45,138.49 371.69,132.18 374.94,126.36 378.19,121.02 381.43,116.16 384.68,111.74 387.92,107.77 391.17,104.20 394.41,101.02 397.66,98.20 400.91,95.71 404.15,93.53 407.40,91.63 410.64,89.98 413.89,88.56 417.14,87.34 420.38,86.31 423.63,85.42 426.87,84.68 430.12,84.06 433.36,83.54 436.61,83.11 439.86,82.75 443.10,82.46 446.35,82.22 449.59,82.03 452.84,81.87 456.08,81.75 459.33,81.65 462.58,81.57 465.82,81.51 469.07,81.46 472.31,81.42 475.56,81.39 478.81,81.37 482.05,81.35 485.30,81.34 488.54,81.33 491.79,81.32 495.03,81.32 498.28,81.31 501.53,81.31 504.77,81.31 508.02,81.30 511.26,81.30 514.51,81.30 517.76,81.30 521.00,81.30 524.25,81.30 527.49,81.30 530.74,81.30 533.98,81.30 537.23,81.30 540.48,81.30 543.72,81.30 546.97,81.30 550.21,81.30 553.46,81.30 556.70,81.30 559.95,81.30 563.20,81.30 566.44,81.30 569.69,81.30 572.93,81.30 576.18,81.30 579.43,81.30 582.67,81.30 585.92,81.30 589.16,81.30 592.41,81.30 595.65,81.30 598.90,81.30 602.15,81.30 605.39,81.30 608.64,81.30 611.88,81.30 615.13,81.30 618.38,81.30 621.62,81.30 624.87,81.30 628.11,81.30 631.36,81.30 634.60,81.30 637.85,81.30" fill="none" stroke="#0000ff" stroke-width="1.25"/>
<polygon points="121.77,439.63 114.17,452.63 129.37,452.63" fill="none" stroke="#0000ff" stroke-width="1.1"/>
<polygon points="131.15,439.63 123.55,452.63 138.75,452.63" fill="none" stroke="#0000ff" stroke-width="1.1"/>
<polygon points="140.53,439.63 132.93,452.63 148.13,452.63" fill="none" stroke="#0000ff" stroke-width="1.1"/>
<polygon points="149.92,439.63 142.32,452.63 157.52,452.63" fill="none" stroke="#0000ff" stroke-width="1.1"/>
<polygon points="159.30,439.63 151.70,452.63 166.90,452.63" fill="none" stroke="#0000ff" stroke-width="1.1"/>
<polygon points="168.68,439.63 161.08,452.63 176.28,452.63" fill="none" stroke="#0000ff" stroke-width="1.1"/>
<polygon points="178.07,439.26 170.47,452.26 185.67,452.26" fill="none" stroke="#0000ff" stroke-width="1.1"/>
<polygon points="187.45,438.89 179.85,451.89 195.05,451.89" fill="none" stroke="#0000ff" stroke-width="1.1"/>
<polygon points="196.83,438.89 189.23,451.89 204.43,451.89" fill="none" stroke="#0000ff" stroke-width="1.1"/>
<polygon points="206.22,436.32 198.62,449.32 213.82,449.32" fill="none" stroke="#0000ff" stroke-width="1.1"/>
<polygon points="215.60,435.22 208.00,448.22 223.20,448.22" fill="none" stroke="#0000ff" stroke-width="1.1"/>
<polygon points="224.98,434.12 217.38,447.12 232.58,447.12" fill="none" stroke="#0000ff" stroke-width="1.1"/>
<polygon points="234.37,429.85 226.77,442.85 241.97,442.85" fill="none" stroke="#0000ff" stroke-width="1.1"/>
<polygon points="243.75,424.56 236.15,437.56 251.35,437.56" fill="none" stroke="#0000ff" stroke-width="1.1"/>
<polygon points="253.13,420.22 245.53,433.22 260.73,433.22" fill="none" stroke="#0000ff" stroke-width="1.1"/>
<polygon points="262.52,411.69 254.92,424.69 270.12,424.69" fill="none" stroke="#0000ff" stroke-width="1.1"/>
<polygon points="271.90,390.89 264.30,403.89 279.50,403.89" fill="none" stroke="#0000ff" stroke-width="1.1"/>
<polygon points="281.28,376.40 273.68,389.40 288.88,389.40" fill="none" stroke="#0000ff" stroke-width="1.1"/>
<polygon points="290.67,362.98 283.07,375.98 298.27,375.98" fill="none" stroke="#0000ff" stroke-width="1.1"/>
<polygon points="300.05,338.17 292.45,351.17 307.65,351.17" fill="none" stroke="#0000ff" stroke-width="1.1"/>
<polygon points="309.43,308.76 301.83,321.76 317.03,321.76" fill="none" stroke="#0000ff" stroke-width="1.1"/>
<polygon points="318.82,275.17 311.22,288.17 326.42,288.17" fill="none" stroke="#0000ff" stroke-width="1.1"/>
<polygon points="328.20,254.18 320.60,267.18 335.80,267.18" fill="none" stroke="#0000ff" stroke-width="1.1"/>
<polygon points="337.58,224.22 329.98,237.22 345.18,237.22" fill="none" stroke="#0000ff" stroke-width="1.1"/>
<polygon points="346.97,183.41 339.37,196.41 354.57,196.41" fill="none" stroke="#0000ff" stroke-width="1.1"/>
<polygon points="356.35,156.69 348.75,169.69 363.95,169.69" fill="none" stroke="#0000ff" stroke-width="1.1"/>
<polygon points="365.73,132.46 358.13,145.46 373.33,145.46" fill="none" stroke="#0000ff" stroke-width="1.1"/>
<polygon points="375.12,112.83 367.52,125.83 382.72,125.83" fill="none" stroke="#0000ff" stroke-width="1.1"/>
<polygon points="384.50,99.97 376.90,112.97 392.10,112.97" fill="none" stroke="#0000ff" stroke-width="1.1"/>
<polygon points="393.88,89.31 386.28,102.31 401.48,102.31" fill="none" stroke="#0000ff" stroke-width="1.1"/>
<polygon points="403.27,79.53 395.67,92.53 410.87,92.53" fill="none" stroke="#0000ff" stroke-width="1.1"/>
<polygon points="412.65,77.18 405.05,90.18 420.25,90.18" fill="none" stroke="#0000ff" stroke-width="1.1"/>
<polygon points="422.03,74.60 414.43,87.60 429.63,87.60" fill="none" stroke="#0000ff" stroke-width="1.1"/>
<polygon points="431.42,73.50 423.82,86.50 439.02,86.50" fill="none" stroke="#0000ff" stroke-width="1.1"/>
<polygon points="440.80,73.50 433.20,86.50 448.40,86.50" fill="none" stroke="#0000ff" stroke-width="1.1"/>
<polygon points="450.18,73.50 442.58,86.50 457.78,86.50" fill="none" stroke="#0000ff" stroke-width="1.1"/>
<polygon points="459.57,73.50 451.97,86.50 467.17,86.50" fill="none" stroke="#0000ff" stroke-width="1.1"/>
<polygon points="468.95,73.50 461.35,86.50 476.55,86.50" fill="none" stroke="#0000ff" stroke-width="1.1"/>
<polygon points="478.33,73.50 470.73,86.50 485.93,86.50" fill="none" stroke="#0000ff" stroke-width="1.1"/>
<polygon points="487.72,73.50 480.12,86.50 495.32,86.50" fill="none" stroke="#0000ff" stroke-width="1.1"/>
<polygon points="497.10,73.50 489.50,86.50 504.70,86.50" fill="none" stroke="#0000ff" stroke-width="1.1"/>
<polygon points="506.48,73.50 498.88,86.50 514.08,86.50" fill="none" stroke="#0000ff" stroke-width="1.1"/>
<polygon points="515.87,73.50 508.27,86.50 523.47,86.50" fill="none" stroke="#0000ff" stroke-width="1.1"/>
<polygon points="525.25,73.50 517.65,86.50 532.85,86.50" fill="none" stroke="#0000ff" stroke-width="1.1"/>
</g>
<line x1="409.70" y1="76.30" x2="409.70" y2="452.58" stroke="#000" stroke-width="1.3" stroke-dasharray="4.7 3.76"/>
<g clip-path="url(#clip_bot)">
<polyline points="103.00,870.29 106.54,870.09 110.08,869.89 113.62,869.68 117.16,869.46 120.70,869.23 124.25,869.00 127.79,868.75 131.33,868.50 134.87,868.24 138.41,867.97 141.95,867.69 145.49,867.40 149.03,867.10 152.57,866.79 156.11,866.46 159.65,866.12 163.19,865.77 166.74,865.41 170.28,865.03 173.82,864.64 177.36,864.24 180.90,863.82 184.44,863.39 187.98,862.94 191.52,862.48 195.06,862.01 198.60,861.52 202.14,861.02 205.69,860.51 209.23,859.99 212.77,859.45 216.31,858.89 219.85,858.31 223.39,857.71 226.93,857.09 230.47,856.43 234.01,855.75 237.55,855.03 241.09,854.27 244.64,853.48 248.18,852.63 251.72,851.74 255.26,850.80 258.80,849.81 262.34,848.77 265.88,847.68 269.42,846.54 272.96,845.35 276.50,844.11 280.04,842.81 283.58,841.47 287.13,840.07 290.67,838.61 294.21,837.09 297.75,835.49 301.29,833.80 304.83,832.03 308.37,830.18 311.91,828.26 315.45,826.27 318.99,824.20 322.53,822.08 326.08,819.90 329.62,817.68 333.16,815.40 336.70,813.10 340.24,810.76 343.78,808.37 347.32,805.92 350.86,803.42 354.40,800.86 357.94,798.26 361.48,795.60 365.03,792.88 368.57,790.12 372.11,787.31 375.65,784.45 379.19,781.54 382.73,778.59 386.27,775.59 389.81,772.55 393.35,769.46 396.89,766.34 400.43,763.17 403.97,759.96 407.52,756.72 411.06,753.44 414.60,750.12 418.14,746.77 421.68,743.38 425.22,739.96 428.76,736.51 432.30,733.03 435.84,729.52 439.38,725.98 442.92,722.42 446.47,718.84 450.01,715.24 453.55,711.62 457.09,707.99 460.63,704.35 464.17,700.71 467.71,697.06 471.25,693.40 474.79,689.75 478.33,686.11 481.87,682.47 485.42,678.84 488.96,675.21 492.50,671.60 496.04,668.00 499.58,664.42 503.12,660.85 506.66,657.30 510.20,653.78 513.74,650.28 517.28,646.80 520.82,643.36 524.36,639.94 527.91,636.56 531.45,633.20 534.99,629.89 538.53,626.61 542.07,623.37 545.61,620.16 549.15,617.00 552.69,613.89 556.23,610.81 559.77,607.78 563.31,604.80 566.86,601.87 570.40,598.98 573.94,596.15 577.48,593.36 581.02,590.63 584.56,587.95 588.10,585.32 591.64,582.74 595.18,580.22 598.72,577.75 602.26,575.33 605.81,572.97 609.35,570.67 612.89,568.42 616.43,566.22 619.97,564.08 623.51,562.00 627.05,559.97 630.59,557.99 634.13,556.07 637.67,554.21 641.21,552.39 644.75,550.63 648.30,548.92 651.84,547.27 655.38,545.66 658.92,544.11 662.46,542.60 666.00,541.15" fill="none" stroke="#ff0000" stroke-width="1.25"/>
<rect x="99.30" y="871.52" width="7.4" height="7.4" fill="#ff0000"/>
<rect x="108.68" y="871.12" width="7.4" height="7.4" fill="#ff0000"/>
<rect x="118.07" y="870.68" width="7.4" height="7.4" fill="#ff0000"/>
<rect x="127.45" y="870.20" width="7.4" height="7.4" fill="#ff0000"/>
<rect x="136.83" y="869.67" width="7.4" height="7.4" fill="#ff0000"/>
<rect x="146.22" y="869.09" width="7.4" height="7.4" fill="#ff0000"/>
<rect x="155.60" y="868.32" width="7.4" height="7.4" fill="#ff0000"/>
<rect x="164.98" y="867.48" width="7.4" height="7.4" fill="#ff0000"/>
<rect x="174.37" y="866.55" width="7.4" height="7.4" fill="#ff0000"/>
<rect x="183.75" y="865.53" width="7.4" height="7.4" fill="#ff0000"/>
<rect x="193.13" y="864.42" width="7.4" height="7.4" fill="#ff0000"/>
<rect x="202.52" y="862.73" width="7.4" height="7.4" fill="#ff0000"/>
<rect x="211.90" y="860.78" width="7.4" height="7.4" fill="#ff0000"/>
<rect x="221.28" y="858.65" width="7.4" height="7.4" fill="#ff0000"/>
<rect x="230.67" y="856.52" width="7.4" height="7.4" fill="#ff0000"/>
<rect x="240.05" y="854.39" width="7.4" height="7.4" fill="#ff0000"/>
<rect x="249.43" y="851.16" width="7.4" height="7.4" fill="#ff0000"/>
<rect x="258.82" y="848.51" width="7.4" height="7.4" fill="#ff0000"/>
<rect x="268.20" y="844.54" width="7.4" height="7.4" fill="#ff0000"/>
<rect x="277.58" y="840.90" width="7.4" height="7.4" fill="#ff0000"/>
<rect x="286.97" y="836.60" width="7.4" height="7.4" fill="#ff0000"/>
<rect x="296.35" y="831.90" width="7.4" height="7.4" fill="#ff0000"/>
<rect x="305.73" y="826.97" width="7.4" height="7.4" fill="#ff0000"/>
<rect x="315.12" y="821.61" width="7.4" height="7.4" fill="#ff0000"/>
<rect x="324.50" y="815.84" width="7.4" height="7.4" fill="#ff0000"/>
<rect x="333.88" y="809.85" width="7.4" height="7.4" fill="#ff0000"/>
<rect x="343.27" y="803.42" width="7.4" height="7.4" fill="#ff0000"/>
<rect x="352.65" y="796.55" width="7.4" height="7.4" fill="#ff0000"/>
<rect x="362.03" y="789.49" width="7.4" height="7.4" fill="#ff0000"/>
<rect x="371.42" y="781.74" width="7.4" height="7.4" fill="#ff0000"/>
<rect x="380.80" y="773.39" width="7.4" height="7.4" fill="#ff0000"/>
<rect x="390.18" y="765.38" width="7.4" height="7.4" fill="#ff0000"/>
<rect x="399.57" y="757.19" width="7.4" height="7.4" fill="#ff0000"/>
<rect x="408.95" y="747.67" width="7.4" height="7.4" fill="#ff0000"/>
<rect x="418.33" y="738.66" width="7.4" height="7.4" fill="#ff0000"/>
<rect x="427.72" y="729.44" width="7.4" height="7.4" fill="#ff0000"/>
<rect x="437.10" y="720.25" width="7.4" height="7.4" fill="#ff0000"/>
<rect x="446.48" y="710.62" width="7.4" height="7.4" fill="#ff0000"/>
<rect x="455.87" y="701.18" width="7.4" height="7.4" fill="#ff0000"/>
<rect x="465.25" y="691.55" width="7.4" height="7.4" fill="#ff0000"/>
<rect x="474.63" y="681.70" width="7.4" height="7.4" fill="#ff0000"/>
<rect x="484.02" y="672.07" width="7.4" height="7.4" fill="#ff0000"/>
<rect x="493.40" y="662.44" width="7.4" height="7.4" fill="#ff0000"/>
<rect x="502.78" y="653.00" width="7.4" height="7.4" fill="#ff0000"/>
<rect x="512.17" y="643.81" width="7.4" height="7.4" fill="#ff0000"/>
<rect x="521.55" y="634.99" width="7.4" height="7.4" fill="#ff0000"/>
<rect x="530.93" y="626.25" width="7.4" height="7.4" fill="#ff0000"/>
<rect x="540.32" y="617.68" width="7.4" height="7.4" fill="#ff0000"/>
<rect x="549.70" y="609.52" width="7.4" height="7.4" fill="#ff0000"/>
<rect x="559.08" y="601.62" width="7.4" height="7.4" fill="#ff0000"/>
<rect x="568.47" y="594.09" width="7.4" height="7.4" fill="#ff0000"/>
<rect x="577.85" y="587.22" width="7.4" height="7.4" fill="#ff0000"/>
<rect x="587.23" y="579.94" width="7.4" height="7.4" fill="#ff0000"/>
<rect x="596.62" y="573.73" width="7.4" height="7.4" fill="#ff0000"/>
<rect x="606.00" y="567.59" width="7.4" height="7.4" fill="#ff0000"/>
<rect x="615.38" y="561.68" width="7.4" height="7.4" fill="#ff0000"/>
<rect x="624.77" y="556.72" width="7.4" height="7.4" fill="#ff0000"/>
<rect x="634.15" y="551.57" width="7.4" height="7.4" fill="#ff0000"/>
<rect x="643.53" y="547.05" width="7.4" height="7.4" fill="#ff0000"/>
<rect x="652.92" y="542.75" width="7.4" height="7.4" fill="#ff0000"/>
<rect x="662.30" y="538.71" width="7.4" height="7.4" fill="#ff0000"/>
<polyline points="103.00,875.73 106.36,875.67 109.73,875.61 113.09,875.55 116.46,875.48 119.82,875.41 123.18,875.34 126.55,875.27 129.91,875.19 133.27,875.11 136.64,875.02 140.00,874.94 143.37,874.84 146.73,874.75 150.09,874.65 153.46,874.55 156.82,874.44 160.19,874.33 163.55,874.21 166.91,874.09 170.28,873.97 173.64,873.84 177.00,873.70 180.37,873.56 183.73,873.41 187.10,873.26 190.46,873.11 193.82,872.94 197.19,872.77 200.55,872.60 203.92,872.42 207.28,872.24 210.64,872.05 214.01,871.86 217.37,871.66 220.73,871.45 224.10,871.23 227.46,871.01 230.83,870.77 234.19,870.52 237.55,870.25 240.92,869.97 244.28,869.67 247.64,869.35 251.01,869.01 254.37,868.64 257.74,868.25 261.10,867.82 264.46,867.32 267.83,866.76 271.19,866.13 274.56,865.41 277.92,864.54 281.28,863.56 284.65,862.51 288.01,861.46 291.37,860.46 294.74,859.53 298.10,858.64 301.47,857.74 304.83,856.78 308.19,855.72 311.56,854.53 314.92,853.22 318.29,851.81 321.65,850.25 325.01,848.52 328.38,846.59 331.74,844.29 335.10,841.58 338.47,838.57 341.83,835.39 345.20,832.25 348.56,829.31 351.92,826.52 355.29,823.77 358.65,821.01 362.02,818.14 365.38,815.06 368.74,811.77 372.11,808.32 375.47,804.72 378.83,800.96 382.20,797.04 385.56,792.94 388.93,788.67 392.29,784.23 395.65,779.62 399.02,774.85 402.38,769.93 405.75,764.88 409.11,759.70 412.47,754.40 415.84,749.00 419.20,743.52 422.56,737.97 425.93,732.36 429.29,726.72 432.66,721.05 436.02,715.35 439.38,709.61 442.75,703.85 446.11,698.06 449.48,692.27 452.84,686.48 456.20,680.69 459.57,674.93 462.93,669.19 466.29,663.50 469.66,657.85 473.02,652.25 476.39,646.71 479.75,641.25 483.11,635.85 486.48,630.53 489.84,625.29 493.21,620.14 496.57,615.10 499.93,610.17 503.30,605.37 506.66,600.70 510.02,596.16 513.39,591.77 516.75,587.52 520.12,583.42 523.48,579.48 526.84,575.69 530.21,572.02 533.57,568.47 536.93,565.06 540.30,561.79 543.66,558.65 547.03,555.67 550.39,552.83 553.75,550.14 557.12,547.60 560.48,545.21 563.85,542.96 567.21,540.85 570.57,538.88 573.94,537.05 577.30,535.38 580.66,533.82 584.03,532.36 587.39,530.96 590.76,529.61 594.12,528.29 597.48,527.01 600.85,525.80 604.21,524.68 607.58,523.68 610.94,522.80 614.30,522.00 617.67,521.27 621.03,520.59 624.39,519.96 627.76,519.39 631.12,518.87 634.49,518.39 637.85,517.97" fill="none" stroke="#008000" stroke-width="1.25"/>
<circle cx="103.00" cy="876.47" r="4.0" fill="#008000"/>
<circle cx="112.38" cy="876.38" r="4.0" fill="#008000"/>
<circle cx="121.77" cy="876.28" r="4.0" fill="#008000"/>
<circle cx="131.15" cy="876.17" r="4.0" fill="#008000"/>
<circle cx="140.53" cy="876.04" r="4.0" fill="#008000"/>
<circle cx="149.92" cy="875.90" r="4.0" fill="#008000"/>
<circle cx="159.30" cy="875.75" r="4.0" fill="#008000"/>
<circle cx="168.68" cy="875.57" r="4.0" fill="#008000"/>
<circle cx="178.07" cy="875.38" r="4.0" fill="#008000"/>
<circle cx="187.45" cy="875.16" r="4.0" fill="#008000"/>
<circle cx="196.83" cy="874.92" r="4.0" fill="#008000"/>
<circle cx="206.22" cy="874.66" r="4.0" fill="#008000"/>
<circle cx="215.60" cy="874.38" r="4.0" fill="#008000"/>
<circle cx="224.98" cy="874.08" r="4.0" fill="#008000"/>
<circle cx="234.37" cy="873.72" r="4.0" fill="#008000"/>
<circle cx="243.75" cy="873.31" r="4.0" fill="#008000"/>
<circle cx="253.13" cy="872.82" r="4.0" fill="#008000"/>
<circle cx="262.52" cy="872.21" r="4.0" fill="#008000"/>
<circle cx="271.90" cy="871.36" r="4.0" fill="#008000"/>
<circle cx="281.28" cy="869.85" r="4.0" fill="#008000"/>
<circle cx="290.67" cy="865.37" r="4.0" fill="#008000"/>
<circle cx="300.05" cy="860.22" r="4.0" fill="#008000"/>
<circle cx="309.43" cy="859.56" r="4.0" fill="#008000"/>
<circle cx="318.82" cy="857.43" r="4.0" fill="#008000"/>
<circle cx="328.20" cy="852.10" r="4.0" fill="#008000"/>
<circle cx="337.58" cy="844.60" r="4.0" fill="#008000"/>
<circle cx="346.97" cy="834.31" r="4.0" fill="#008000"/>
<circle cx="356.35" cy="818.25" r="4.0" fill="#008000"/>
<circle cx="365.73" cy="818.25" r="4.0" fill="#008000"/>
<circle cx="375.12" cy="810.76" r="4.0" fill="#008000"/>
<circle cx="384.50" cy="794.03" r="4.0" fill="#008000"/>
<circle cx="393.88" cy="781.39" r="4.0" fill="#008000"/>
<circle cx="403.27" cy="763.57" r="4.0" fill="#008000"/>
<circle cx="412.65" cy="757.80" r="4.0" fill="#008000"/>
<circle cx="422.03" cy="736.08" r="4.0" fill="#008000"/>
<circle cx="431.42" cy="712.38" r="4.0" fill="#008000"/>
<circle cx="440.80" cy="710.69" r="4.0" fill="#008000"/>
<circle cx="450.18" cy="691.39" r="4.0" fill="#008000"/>
<circle cx="459.57" cy="680.26" r="4.0" fill="#008000"/>
<circle cx="468.95" cy="658.91" r="4.0" fill="#008000"/>
<circle cx="478.33" cy="651.33" r="4.0" fill="#008000"/>
<circle cx="487.72" cy="618.77" r="4.0" fill="#008000"/>
<circle cx="497.10" cy="616.64" r="4.0" fill="#008000"/>
<circle cx="506.48" cy="601.65" r="4.0" fill="#008000"/>
<circle cx="515.87" cy="588.60" r="4.0" fill="#008000"/>
<circle cx="525.25" cy="575.96" r="4.0" fill="#008000"/>
<circle cx="534.63" cy="571.07" r="4.0" fill="#008000"/>
<circle cx="544.02" cy="554.98" r="4.0" fill="#008000"/>
<circle cx="553.40" cy="551.74" r="4.0" fill="#008000"/>
<circle cx="562.78" cy="539.98" r="4.0" fill="#008000"/>
<circle cx="572.17" cy="534.87" r="4.0" fill="#008000"/>
<circle cx="581.55" cy="537.48" r="4.0" fill="#008000"/>
<circle cx="590.93" cy="528.70" r="4.0" fill="#008000"/>
<circle cx="600.32" cy="521.46" r="4.0" fill="#008000"/>
<circle cx="609.70" cy="518.26" r="4.0" fill="#008000"/>
<circle cx="619.08" cy="519.07" r="4.0" fill="#008000"/>
<circle cx="628.47" cy="513.38" r="4.0" fill="#008000"/>
<circle cx="637.85" cy="519.55" r="4.0" fill="#008000"/>
<polyline points="196.83,877.20 199.61,877.20 202.38,877.20 205.15,877.20 207.93,877.20 210.70,877.20 213.48,877.20 216.25,877.19 219.02,877.19 221.80,877.19 224.57,877.19 227.34,877.19 230.12,877.18 232.89,877.18 235.66,877.17 238.44,877.17 241.21,877.16 243.99,877.15 246.76,877.14 249.53,877.12 252.31,877.10 255.08,877.08 257.85,877.06 260.63,877.03 263.40,876.99 266.18,876.95 268.95,876.90 271.72,876.84 274.50,876.76 277.27,876.68 280.04,876.58 282.82,876.46 285.59,876.33 288.37,876.17 291.14,875.99 293.91,875.78 296.69,875.53 299.46,875.25 302.23,874.93 305.01,874.56 307.78,874.14 310.55,873.66 313.33,873.11 316.10,872.50 318.88,871.81 321.65,871.03 324.42,870.16 327.20,869.18 329.97,868.10 332.74,866.89 335.52,865.55 338.29,864.07 341.07,862.44 343.84,860.65 346.61,858.69 349.39,856.55 352.16,854.22 354.93,851.69 357.71,848.95 360.48,845.99 363.25,842.80 366.03,839.38 368.80,835.72 371.58,831.82 374.35,827.66 377.12,823.25 379.90,818.58 382.67,813.65 385.44,808.47 388.22,803.04 390.99,797.36 393.77,791.43 396.54,785.27 399.31,778.88 402.09,772.27 404.86,765.46 407.63,758.46 410.41,751.28 413.18,743.95 415.95,736.47 418.73,728.88 421.50,721.18 424.28,713.41 427.05,705.58 429.82,697.71 432.60,689.83 435.37,681.96 438.14,674.13 440.92,666.35 443.69,658.65 446.47,651.04 449.24,643.56 452.01,636.21 454.79,629.02 457.56,622.00 460.33,615.18 463.11,608.55 465.88,602.14 468.65,595.96 471.43,590.02 474.20,584.31 476.98,578.86 479.75,573.66 482.52,568.71 485.30,564.02 488.07,559.59 490.84,555.41 493.62,551.49 496.39,547.80 499.17,544.37 501.94,541.16 504.71,538.18 507.49,535.42 510.26,532.88 513.03,530.53 515.81,528.37 518.58,526.40 521.36,524.60 524.13,522.95 526.90,521.46 529.68,520.12 532.45,518.90 535.22,517.80 538.00,516.82 540.77,515.94 543.54,515.15 546.32,514.45 549.09,513.83 551.87,513.28 554.64,512.80 557.41,512.37 560.19,512.00 562.96,511.68 565.73,511.39 568.51,511.14 571.28,510.93 574.06,510.74 576.83,510.58 579.60,510.45 582.38,510.33 585.15,510.23 587.92,510.14 590.70,510.07 593.47,510.01 596.24,509.96 599.02,509.91 601.79,509.88 604.57,509.84 607.34,509.82 610.11,509.80 612.89,509.78 615.66,509.77 618.43,509.75 621.21,509.74 623.98,509.73 626.76,509.73 629.53,509.72 632.30,509.72 635.08,509.71 637.85,509.71" fill="none" stroke="#0000ff" stroke-width="1.25"/>
<polygon points="196.83,872.03 192.23,880.03 201.43,880.03" fill="#0000ff"/>
<polygon points="206.22,872.03 201.62,880.03 210.82,880.03" fill="#0000ff"/>
<polygon points="215.60,872.03 211.00,880.03 220.20,880.03" fill="#0000ff"/>
<polygon points="224.98,872.03 220.38,880.03 229.58,880.03" fill="#0000ff"/>
<polygon points="234.37,872.02 229.77,880.02 238.97,880.02" fill="#0000ff"/>
<polygon points="243.75,872.01 239.15,880.01 248.35,880.01" fill="#0000ff"/>
<polygon points="253.13,871.99 248.53,879.99 257.73,879.99" fill="#0000ff"/>
<polygon points="262.52,871.94 257.92,879.94 267.12,879.94" fill="#0000ff"/>
<polygon points="271.90,871.86 267.30,879.86 276.50,879.86" fill="#0000ff"/>
<polygon points="281.28,871.72 276.68,879.72 285.88,879.72" fill="#0000ff"/>
<polygon points="290.67,871.48 286.07,879.48 295.27,879.48" fill="#0000ff"/>
<polygon points="300.05,868.28 295.45,876.28 304.65,876.28" fill="#0000ff"/>
<polygon points="309.43,869.09 304.83,877.09 314.03,877.09" fill="#0000ff"/>
<polygon points="318.82,862.29 314.22,870.29 323.42,870.29" fill="#0000ff"/>
<polygon points="328.20,868.28 323.60,876.28 332.80,876.28" fill="#0000ff"/>
<polygon points="337.58,856.97 332.98,864.97 342.18,864.97" fill="#0000ff"/>
<polygon points="346.97,854.76 342.37,862.76 351.57,862.76" fill="#0000ff"/>
<polygon points="356.35,850.50 351.75,858.50 360.95,858.50" fill="#0000ff"/>
<polygon points="365.73,837.01 361.13,845.01 370.33,845.01" fill="#0000ff"/>
<polygon points="375.12,827.57 370.52,835.57 379.72,835.57" fill="#0000ff"/>
<polygon points="384.50,798.68 379.90,806.68 389.10,806.68" fill="#0000ff"/>
<polygon points="393.88,784.09 389.28,792.09 398.48,792.09" fill="#0000ff"/>
<polygon points="403.27,764.76 398.67,772.76 407.87,772.76" fill="#0000ff"/>
<polygon points="412.65,723.01 408.05,731.01 417.25,731.01" fill="#0000ff"/>
<polygon points="422.03,729.44 417.43,737.44 426.63,737.44" fill="#0000ff"/>
<polygon points="431.42,711.66 426.82,719.66 436.02,719.66" fill="#0000ff"/>
<polygon points="440.80,640.88 436.20,648.88 445.40,648.88" fill="#0000ff"/>
<polygon points="450.18,645.29 445.58,653.29 454.78,653.29" fill="#0000ff"/>
<polygon points="459.57,598.98 454.97,606.98 464.17,606.98" fill="#0000ff"/>
<polygon points="468.95,584.28 464.35,592.28 473.55,592.28" fill="#0000ff"/>
<polygon points="478.33,581.89 473.73,589.89 482.93,589.89" fill="#0000ff"/>
<polygon points="487.72,560.43 483.12,568.43 492.32,568.43" fill="#0000ff"/>
<polygon points="497.10,536.87 492.50,544.87 501.70,544.87" fill="#0000ff"/>
<polygon points="506.48,529.38 501.88,537.38 511.08,537.38" fill="#0000ff"/>
<polygon points="515.87,526.22 511.27,534.22 520.47,534.22" fill="#0000ff"/>
<polygon points="525.25,518.06 520.65,526.06 529.85,526.06" fill="#0000ff"/>
<polygon points="534.63,513.35 530.03,521.35 539.23,521.35" fill="#0000ff"/>
<polygon points="544.02,518.06 539.42,526.06 548.62,526.06" fill="#0000ff"/>
<polygon points="553.40,506.22 548.80,514.22 558.00,514.22" fill="#0000ff"/>
<polygon points="562.78,512.69 558.18,520.69 567.38,520.69" fill="#0000ff"/>
<polygon points="572.17,506.37 567.57,514.37 576.77,514.37" fill="#0000ff"/>
<polygon points="581.55,505.64 576.95,513.64 586.15,513.64" fill="#0000ff"/>
<polygon points="590.93,504.90 586.33,512.90 595.53,512.90" fill="#0000ff"/>
<polygon points="600.32,504.90 595.72,512.90 604.92,512.90" fill="#0000ff"/>
<polygon points="609.70,504.90 605.10,512.90 614.30,512.90" fill="#0000ff"/>
<polygon points="619.08,504.90 614.48,512.90 623.68,512.90" fill="#0000ff"/>
<polygon points="628.47,504.90 623.87,512.90 633.07,512.90" fill="#0000ff"/>
<polygon points="637.85,504.90 633.25,512.90 642.45,512.90" fill="#0000ff"/>
<polyline points="103.00,851.73 106.54,850.13 110.08,848.45 113.62,846.69 117.16,844.86 120.70,842.94 124.25,840.94 127.79,838.86 131.33,836.69 134.87,834.44 138.41,832.09 141.95,829.66 145.49,827.14 149.03,824.53 152.57,821.83 156.11,819.04 159.65,816.16 163.19,813.19 166.74,810.12 170.28,806.97 173.82,803.73 177.36,800.40 180.90,796.98 184.44,793.48 187.98,789.89 191.52,786.22 195.06,782.46 198.60,778.63 202.14,774.72 205.69,770.74 209.23,766.69 212.77,762.57 216.31,758.38 219.85,754.14 223.39,749.83 226.93,745.47 230.47,741.06 234.01,736.60 237.55,732.10 241.09,727.56 244.64,722.99 248.18,718.38 251.72,713.76 255.26,709.11 258.80,704.44 262.34,699.77 265.88,695.08 269.42,690.40 272.96,685.72 276.50,681.04 280.04,676.38 283.58,671.74 287.13,667.12 290.67,662.52 294.21,657.96 297.75,653.43 301.29,648.94 304.83,644.50 308.37,640.10 311.91,635.76 315.45,631.47 318.99,627.24 322.53,623.07 326.08,618.97 329.62,614.94 333.16,610.98 336.70,607.10 340.24,603.29 343.78,599.56 347.32,595.92 350.86,592.35 354.40,588.88 357.94,585.48 361.48,582.18 365.03,578.96 368.57,575.84 372.11,572.80 375.65,569.86 379.19,567.00 382.73,564.24 386.27,561.57 389.81,558.98 393.35,556.49 396.89,554.09 400.43,551.77 403.97,549.54 407.52,547.40 411.06,545.34 414.60,543.37 418.14,541.48 421.68,539.67 425.22,537.93 428.76,536.28 432.30,534.70 435.84,533.19 439.38,531.76 442.92,530.40 446.47,529.10 450.01,527.87 453.55,526.70 457.09,525.59 460.63,524.54 464.17,523.55 467.71,522.61 471.25,521.73 474.79,520.89 478.33,520.11 481.87,519.37 485.42,518.68 488.96,518.02 492.50,517.41 496.04,516.84 499.58,516.30 503.12,515.80 506.66,515.33 510.20,514.89 513.74,514.49 517.28,514.11 520.82,513.75 524.36,513.42 527.91,513.12 531.45,512.84 534.99,512.57 538.53,512.33 542.07,512.11 545.61,511.90 549.15,511.71 552.69,511.53 556.23,511.37 559.77,511.22 563.31,511.08 566.86,510.96 570.40,510.84 573.94,510.73 577.48,510.64 581.02,510.55 584.56,510.47 588.10,510.39 591.64,510.33 595.18,510.26 598.72,510.21 602.26,510.16 605.81,510.11 609.35,510.07 612.89,510.03 616.43,510.00 619.97,509.97 623.51,509.94 627.05,509.91 630.59,509.89 634.13,509.87 637.67,509.85 641.21,509.84 644.75,509.82 648.30,509.81 651.84,509.80 655.38,509.78 658.92,509.77 662.46,509.77 666.00,509.76" fill="none" stroke="#ff0000" stroke-width="1.25" stroke-dasharray="5.5 2.8"/>
<rect x="97.70" y="841.40" width="10.6" height="10.6" fill="none" stroke="#ff0000" stroke-width="1.1"/>
<rect x="107.08" y="841.40" width="10.6" height="10.6" fill="none" stroke="#ff0000" stroke-width="1.1"/>
<rect x="116.47" y="835.41" width="10.6" height="10.6" fill="none" stroke="#ff0000" stroke-width="1.1"/>
<rect x="125.85" y="831.81" width="10.6" height="10.6" fill="none" stroke="#ff0000" stroke-width="1.1"/>
<rect x="135.23" y="817.88" width="10.6" height="10.6" fill="none" stroke="#ff0000" stroke-width="1.1"/>
<rect x="144.62" y="813.61" width="10.6" height="10.6" fill="none" stroke="#ff0000" stroke-width="1.1"/>
<rect x="154.00" y="805.68" width="10.6" height="10.6" fill="none" stroke="#ff0000" stroke-width="1.1"/>
<rect x="163.38" y="799.25" width="10.6" height="10.6" fill="none" stroke="#ff0000" stroke-width="1.1"/>
<rect x="172.77" y="796.01" width="10.6" height="10.6" fill="none" stroke="#ff0000" stroke-width="1.1"/>
<rect x="182.15" y="783.59" width="10.6" height="10.6" fill="none" stroke="#ff0000" stroke-width="1.1"/>
<rect x="191.53" y="781.46" width="10.6" height="10.6" fill="none" stroke="#ff0000" stroke-width="1.1"/>
<rect x="200.92" y="768.19" width="10.6" height="10.6" fill="none" stroke="#ff0000" stroke-width="1.1"/>
<rect x="210.30" y="753.20" width="10.6" height="10.6" fill="none" stroke="#ff0000" stroke-width="1.1"/>
<rect x="219.68" y="741.81" width="10.6" height="10.6" fill="none" stroke="#ff0000" stroke-width="1.1"/>
<rect x="229.07" y="724.17" width="10.6" height="10.6" fill="none" stroke="#ff0000" stroke-width="1.1"/>
<rect x="238.45" y="714.98" width="10.6" height="10.6" fill="none" stroke="#ff0000" stroke-width="1.1"/>
<rect x="247.83" y="717.18" width="10.6" height="10.6" fill="none" stroke="#ff0000" stroke-width="1.1"/>
<rect x="257.22" y="703.84" width="10.6" height="10.6" fill="none" stroke="#ff0000" stroke-width="1.1"/>
<rect x="266.60" y="686.68" width="10.6" height="10.6" fill="none" stroke="#ff0000" stroke-width="1.1"/>
<rect x="275.98" y="668.93" width="10.6" height="10.6" fill="none" stroke="#ff0000" stroke-width="1.1"/>
<rect x="285.37" y="660.37" width="10.6" height="10.6" fill="none" stroke="#ff0000" stroke-width="1.1"/>
<rect x="294.75" y="644.31" width="10.6" height="10.6" fill="none" stroke="#ff0000" stroke-width="1.1"/>
<rect x="304.13" y="641.73" width="10.6" height="10.6" fill="none" stroke="#ff0000" stroke-width="1.1"/>
<rect x="313.52" y="622.26" width="10.6" height="10.6" fill="none" stroke="#ff0000" stroke-width="1.1"/>
<rect x="322.90" y="608.33" width="10.6" height="10.6" fill="none" stroke="#ff0000" stroke-width="1.1"/>
<rect x="332.28" y="603.99" width="10.6" height="10.6" fill="none" stroke="#ff0000" stroke-width="1.1"/>
<rect x="341.67" y="587.82" width="10.6" height="10.6" fill="none" stroke="#ff0000" stroke-width="1.1"/>
<rect x="351.05" y="574.23" width="10.6" height="10.6" fill="none" stroke="#ff0000" stroke-width="1.1"/>
<rect x="360.43" y="577.61" width="10.6" height="10.6" fill="none" stroke="#ff0000" stroke-width="1.1"/>
<rect x="369.82" y="560.04" width="10.6" height="10.6" fill="none" stroke="#ff0000" stroke-width="1.1"/>
<rect x="379.20" y="560.04" width="10.6" height="10.6" fill="none" stroke="#ff0000" stroke-width="1.1"/>
<rect x="388.58" y="545.01" width="10.6" height="10.6" fill="none" stroke="#ff0000" stroke-width="1.1"/>
<rect x="397.97" y="540.78" width="10.6" height="10.6" fill="none" stroke="#ff0000" stroke-width="1.1"/>
<rect x="407.35" y="534.31" width="10.6" height="10.6" fill="none" stroke="#ff0000" stroke-width="1.1"/>
<rect x="416.73" y="526.82" width="10.6" height="10.6" fill="none" stroke="#ff0000" stroke-width="1.1"/>
<rect x="426.12" y="533.25" width="10.6" height="10.6" fill="none" stroke="#ff0000" stroke-width="1.1"/>
<rect x="435.50" y="526.82" width="10.6" height="10.6" fill="none" stroke="#ff0000" stroke-width="1.1"/>
<rect x="444.88" y="517.19" width="10.6" height="10.6" fill="none" stroke="#ff0000" stroke-width="1.1"/>
<rect x="454.27" y="517.19" width="10.6" height="10.6" fill="none" stroke="#ff0000" stroke-width="1.1"/>
<rect x="463.65" y="518.37" width="10.6" height="10.6" fill="none" stroke="#ff0000" stroke-width="1.1"/>
<rect x="473.03" y="518.37" width="10.6" height="10.6" fill="none" stroke="#ff0000" stroke-width="1.1"/>
<rect x="482.42" y="513.59" width="10.6" height="10.6" fill="none" stroke="#ff0000" stroke-width="1.1"/>
<rect x="491.80" y="511.75" width="10.6" height="10.6" fill="none" stroke="#ff0000" stroke-width="1.1"/>
<rect x="501.18" y="509.91" width="10.6" height="10.6" fill="none" stroke="#ff0000" stroke-width="1.1"/>
<rect x="510.57" y="508.07" width="10.6" height="10.6" fill="none" stroke="#ff0000" stroke-width="1.1"/>
<rect x="519.95" y="506.97" width="10.6" height="10.6" fill="none" stroke="#ff0000" stroke-width="1.1"/>
<rect x="529.33" y="506.24" width="10.6" height="10.6" fill="none" stroke="#ff0000" stroke-width="1.1"/>
<rect x="538.72" y="505.50" width="10.6" height="10.6" fill="none" stroke="#ff0000" stroke-width="1.1"/>
<rect x="548.10" y="505.50" width="10.6" height="10.6" fill="none" stroke="#ff0000" stroke-width="1.1"/>
<rect x="557.48" y="505.50" width="10.6" height="10.6" fill="none" stroke="#ff0000" stroke-width="1.1"/>
<rect x="566.87" y="505.50" width="10.6" height="10.6" fill="none" stroke="#ff0000" stroke-width="1.1"/>
<rect x="576.25" y="505.50" width="10.6" height="10.6" fill="none" stroke="#ff0000" stroke-width="1.1"/>
<rect x="585.63" y="505.50" width="10.6" height="10.6" fill="none" stroke="#ff0000" stroke-width="1.1"/>
<rect x="595.02" y="505.50" width="10.6" height="10.6" fill="none" stroke="#ff0000" stroke-width="1.1"/>
<rect x="604.40" y="505.50" width="10.6" height="10.6" fill="none" stroke="#ff0000" stroke-width="1.1"/>
<rect x="613.78" y="505.50" width="10.6" height="10.6" fill="none" stroke="#ff0000" stroke-width="1.1"/>
<rect x="623.17" y="505.50" width="10.6" height="10.6" fill="none" stroke="#ff0000" stroke-width="1.1"/>
<rect x="632.55" y="505.50" width="10.6" height="10.6" fill="none" stroke="#ff0000" stroke-width="1.1"/>
<rect x="641.93" y="505.50" width="10.6" height="10.6" fill="none" stroke="#ff0000" stroke-width="1.1"/>
<rect x="651.32" y="505.50" width="10.6" height="10.6" fill="none" stroke="#ff0000" stroke-width="1.1"/>
<rect x="660.70" y="505.50" width="10.6" height="10.6" fill="none" stroke="#ff0000" stroke-width="1.1"/>
<polyline points="103.00,876.98 106.36,876.94 109.73,876.89 113.09,876.83 116.46,876.76 119.82,876.69 123.18,876.60 126.55,876.50 129.91,876.38 133.27,876.24 136.64,876.08 140.00,875.90 143.37,875.70 146.73,875.46 150.09,875.20 153.46,874.90 156.82,874.56 160.19,874.17 163.55,873.74 166.91,873.26 170.28,872.71 173.64,872.10 177.00,871.43 180.37,870.67 183.73,869.84 187.10,868.91 190.46,867.89 193.82,866.77 197.19,865.54 200.55,864.19 203.92,862.71 207.28,861.10 210.64,859.34 214.01,857.44 217.37,855.38 220.73,853.15 224.10,850.76 227.46,848.18 230.83,845.42 234.19,842.47 237.55,839.32 240.92,835.96 244.28,832.40 247.64,828.63 251.01,824.64 254.37,820.45 257.74,816.03 261.10,811.40 264.46,806.55 267.83,801.49 271.19,796.22 274.56,790.75 277.92,785.08 281.28,779.22 284.65,773.18 288.01,766.96 291.37,760.58 294.74,754.05 298.10,747.38 301.47,740.58 304.83,733.68 308.19,726.68 311.56,719.60 314.92,712.46 318.29,705.27 321.65,698.05 325.01,690.82 328.38,683.60 331.74,676.40 335.10,669.24 338.47,662.14 341.83,655.12 345.20,648.19 348.56,641.36 351.92,634.66 355.29,628.09 358.65,621.66 362.02,615.40 365.38,609.31 368.74,603.40 372.11,597.67 375.47,592.15 378.83,586.82 382.20,581.71 385.56,576.80 388.93,572.11 392.29,567.64 395.65,563.38 399.02,559.34 402.38,555.51 405.75,551.89 409.11,548.48 412.47,545.27 415.84,542.27 419.20,539.45 422.56,536.83 425.93,534.38 429.29,532.11 432.66,530.01 436.02,528.06 439.38,526.27 442.75,524.62 446.11,523.11 449.48,521.72 452.84,520.45 456.20,519.30 459.57,518.25 462.93,517.30 466.29,516.45 469.66,515.67 473.02,514.97 476.39,514.35 479.75,513.79 483.11,513.29 486.48,512.84 489.84,512.44 493.21,512.09 496.57,511.78 499.93,511.50 503.30,511.26 506.66,511.05 510.02,510.86 513.39,510.70 516.75,510.56 520.12,510.44 523.48,510.33 526.84,510.24 530.21,510.16 533.57,510.09 536.93,510.03 540.30,509.98 543.66,509.93 547.03,509.90 550.39,509.86 553.75,509.84 557.12,509.81 560.48,509.80 563.85,509.78 567.21,509.77 570.57,509.75 573.94,509.75 577.30,509.74 580.66,509.73 584.03,509.73 587.39,509.72 590.76,509.72 594.12,509.71 597.48,509.71 600.85,509.71 604.21,509.71 607.58,509.71 610.94,509.70 614.30,509.70 617.67,509.70 621.03,509.70 624.39,509.70 627.76,509.70 631.12,509.70 634.49,509.70 637.85,509.70" fill="none" stroke="#008000" stroke-width="1.25" stroke-dasharray="5.5 2.8"/>
<circle cx="103.00" cy="875.36" r="6.3" fill="none" stroke="#008000" stroke-width="1"/>
<circle cx="112.38" cy="875.00" r="6.3" fill="none" stroke="#008000" stroke-width="1"/>
<circle cx="121.77" cy="875.00" r="6.3" fill="none" stroke="#008000" stroke-width="1"/>
<circle cx="131.15" cy="874.26" r="6.3" fill="none" stroke="#008000" stroke-width="1"/>
<circle cx="140.53" cy="872.42" r="6.3" fill="none" stroke="#008000" stroke-width="1"/>
<circle cx="149.92" cy="872.79" r="6.3" fill="none" stroke="#008000" stroke-width="1"/>
<circle cx="159.30" cy="870.95" r="6.3" fill="none" stroke="#008000" stroke-width="1"/>
<circle cx="168.68" cy="868.45" r="6.3" fill="none" stroke="#008000" stroke-width="1"/>
<circle cx="178.07" cy="867.06" r="6.3" fill="none" stroke="#008000" stroke-width="1"/>
<circle cx="187.45" cy="865.37" r="6.3" fill="none" stroke="#008000" stroke-width="1"/>
<circle cx="196.83" cy="863.24" r="6.3" fill="none" stroke="#008000" stroke-width="1"/>
<circle cx="206.22" cy="860.66" r="6.3" fill="none" stroke="#008000" stroke-width="1"/>
<circle cx="215.60" cy="853.17" r="6.3" fill="none" stroke="#008000" stroke-width="1"/>
<circle cx="224.98" cy="848.90" r="6.3" fill="none" stroke="#008000" stroke-width="1"/>
<circle cx="234.37" cy="840.30" r="6.3" fill="none" stroke="#008000" stroke-width="1"/>
<circle cx="243.75" cy="832.81" r="6.3" fill="none" stroke="#008000" stroke-width="1"/>
<circle cx="253.13" cy="817.81" r="6.3" fill="none" stroke="#008000" stroke-width="1"/>
<circle cx="262.52" cy="806.02" r="6.3" fill="none" stroke="#008000" stroke-width="1"/>
<circle cx="271.90" cy="799.62" r="6.3" fill="none" stroke="#008000" stroke-width="1"/>
<circle cx="281.28" cy="780.33" r="6.3" fill="none" stroke="#008000" stroke-width="1"/>
<circle cx="290.67" cy="770.70" r="6.3" fill="none" stroke="#008000" stroke-width="1"/>
<circle cx="300.05" cy="748.83" r="6.3" fill="none" stroke="#008000" stroke-width="1"/>
<circle cx="309.43" cy="720.28" r="6.3" fill="none" stroke="#008000" stroke-width="1"/>
<circle cx="318.82" cy="705.32" r="6.3" fill="none" stroke="#008000" stroke-width="1"/>
<circle cx="328.20" cy="685.00" r="6.3" fill="none" stroke="#008000" stroke-width="1"/>
<circle cx="337.58" cy="660.74" r="6.3" fill="none" stroke="#008000" stroke-width="1"/>
<circle cx="346.97" cy="642.37" r="6.3" fill="none" stroke="#008000" stroke-width="1"/>
<circle cx="356.35" cy="633.18" r="6.3" fill="none" stroke="#008000" stroke-width="1"/>
<circle cx="365.73" cy="604.52" r="6.3" fill="none" stroke="#008000" stroke-width="1"/>
<circle cx="375.12" cy="596.80" r="6.3" fill="none" stroke="#008000" stroke-width="1"/>
<circle cx="384.50" cy="578.17" r="6.3" fill="none" stroke="#008000" stroke-width="1"/>
<circle cx="393.88" cy="562.11" r="6.3" fill="none" stroke="#008000" stroke-width="1"/>
<circle cx="403.27" cy="557.48" r="6.3" fill="none" stroke="#008000" stroke-width="1"/>
<circle cx="412.65" cy="536.42" r="6.3" fill="none" stroke="#008000" stroke-width="1"/>
<circle cx="422.03" cy="538.55" r="6.3" fill="none" stroke="#008000" stroke-width="1"/>
<circle cx="431.42" cy="525.69" r="6.3" fill="none" stroke="#008000" stroke-width="1"/>
<circle cx="440.80" cy="523.67" r="6.3" fill="none" stroke="#008000" stroke-width="1"/>
<circle cx="450.18" cy="518.15" r="6.3" fill="none" stroke="#008000" stroke-width="1"/>
<circle cx="459.57" cy="521.46" r="6.3" fill="none" stroke="#008000" stroke-width="1"/>
<circle cx="468.95" cy="515.21" r="6.3" fill="none" stroke="#008000" stroke-width="1"/>
<circle cx="478.33" cy="514.11" r="6.3" fill="none" stroke="#008000" stroke-width="1"/>
<circle cx="487.72" cy="513.38" r="6.3" fill="none" stroke="#008000" stroke-width="1"/>
<circle cx="497.10" cy="512.27" r="6.3" fill="none" stroke="#008000" stroke-width="1"/>
<circle cx="506.48" cy="511.54" r="6.3" fill="none" stroke="#008000" stroke-width="1"/>
<circle cx="515.87" cy="510.80" r="6.3" fill="none" stroke="#008000" stroke-width="1"/>
<circle cx="525.25" cy="510.80" r="6.3" fill="none" stroke="#008000" stroke-width="1"/>
<circle cx="534.63" cy="510.80" r="6.3" fill="none" stroke="#008000" stroke-width="1"/>
<circle cx="544.02" cy="510.80" r="6.3" fill="none" stroke="#008000" stroke-width="1"/>
<circle cx="553.40" cy="510.80" r="6.3" fill="none" stroke="#008000" stroke-width="1"/>
<circle cx="562.78" cy="510.80" r="6.3" fill="none" stroke="#008000" stroke-width="1"/>
<circle cx="572.17" cy="510.80" r="6.3" fill="none" stroke="#008000" stroke-width="1"/>
<circle cx="581.55" cy="510.80" r="6.3" fill="none" stroke="#008000" stroke-width="1"/>
<circle cx="590.93" cy="510.80" r="6.3" fill="none" stroke="#008000" stroke-width="1"/>
<polyline points="121.77,877.20 125.01,877.20 128.26,877.20 131.50,877.20 134.75,877.20 138.00,877.20 141.24,877.20 144.49,877.20 147.73,877.20 150.98,877.20 154.22,877.20 157.47,877.20 160.72,877.20 163.96,877.20 167.21,877.20 170.45,877.20 173.70,877.20 176.95,877.20 180.19,877.20 183.44,877.20 186.68,877.20 189.93,877.19 193.17,877.19 196.42,877.19 199.67,877.18 202.91,877.18 206.16,877.17 209.40,877.15 212.65,877.14 215.90,877.12 219.14,877.09 222.39,877.05 225.63,877.00 228.88,876.93 232.12,876.85 235.37,876.74 238.62,876.61 241.86,876.44 245.11,876.22 248.35,875.96 251.60,875.62 254.84,875.21 258.09,874.71 261.34,874.10 264.58,873.37 267.83,872.48 271.07,871.42 274.32,870.16 277.57,868.68 280.81,866.95 284.06,864.93 287.30,862.59 290.55,859.91 293.79,856.84 297.04,853.36 300.29,849.43 303.53,845.03 306.78,840.13 310.02,834.70 313.27,828.73 316.52,822.21 319.76,815.13 323.01,807.48 326.25,799.28 329.50,790.55 332.74,781.30 335.99,771.57 339.24,761.39 342.48,750.82 345.73,739.90 348.97,728.70 352.22,717.28 355.46,705.72 358.71,694.07 361.96,682.42 365.20,670.84 368.45,659.41 371.69,648.18 374.94,637.23 378.19,626.62 381.43,616.40 384.68,606.62 387.92,597.31 391.17,588.52 394.41,580.27 397.66,572.56 400.91,565.42 404.15,558.84 407.40,552.81 410.64,547.33 413.89,542.37 417.14,537.91 420.38,533.94 423.63,530.41 426.87,527.30 430.12,524.57 433.36,522.20 436.61,520.15 439.86,518.39 443.10,516.88 446.35,515.60 449.59,514.53 452.84,513.62 456.08,512.87 459.33,512.25 462.58,511.73 465.82,511.32 469.07,510.98 472.31,510.70 475.56,510.48 478.81,510.31 482.05,510.17 485.30,510.06 488.54,509.97 491.79,509.91 495.03,509.86 498.28,509.82 501.53,509.79 504.77,509.76 508.02,509.75 511.26,509.73 514.51,509.73 517.76,509.72 521.00,509.71 524.25,509.71 527.49,509.71 530.74,509.70 533.98,509.70 537.23,509.70 540.48,509.70 543.72,509.70 546.97,509.70 550.21,509.70 553.46,509.70 556.70,509.70 559.95,509.70 563.20,509.70 566.44,509.70 569.69,509.70 572.93,509.70 576.18,509.70 579.43,509.70 582.67,509.70 585.92,509.70 589.16,509.70 592.41,509.70 595.65,509.70 598.90,509.70 602.15,509.70 605.39,509.70 608.64,509.70 611.88,509.70 615.13,509.70 618.38,509.70 621.62,509.70 624.87,509.70 628.11,509.70 631.36,509.70 634.60,509.70 637.85,509.70" fill="none" stroke="#0000ff" stroke-width="1.25" stroke-dasharray="5.5 2.8"/>
<polygon points="121.77,868.30 114.17,881.30 129.37,881.30" fill="none" stroke="#0000ff" stroke-width="1.1"/>
<polygon points="131.15,868.30 123.55,881.30 138.75,881.30" fill="none" stroke="#0000ff" stroke-width="1.1"/>
<polygon points="140.53,868.30 132.93,881.30 148.13,881.30" fill="none" stroke="#0000ff" stroke-width="1.1"/>
<polygon points="149.92,868.30 142.32,881.30 157.52,881.30" fill="none" stroke="#0000ff" stroke-width="1.1"/>
<polygon points="159.30,868.30 151.70,881.30 166.90,881.30" fill="none" stroke="#0000ff" stroke-width="1.1"/>
<polygon points="168.68,868.30 161.08,881.30 176.28,881.30" fill="none" stroke="#0000ff" stroke-width="1.1"/>
<polygon points="178.07,868.30 170.47,881.30 185.67,881.30" fill="none" stroke="#0000ff" stroke-width="1.1"/>
<polygon points="187.45,868.30 179.85,881.30 195.05,881.30" fill="none" stroke="#0000ff" stroke-width="1.1"/>
<polygon points="196.83,867.93 189.23,880.93 204.43,880.93" fill="none" stroke="#0000ff" stroke-width="1.1"/>
<polygon points="206.22,867.93 198.62,880.93 213.82,880.93" fill="none" stroke="#0000ff" stroke-width="1.1"/>
<polygon points="215.60,867.56 208.00,880.56 223.20,880.56" fill="none" stroke="#0000ff" stroke-width="1.1"/>
<polygon points="224.98,867.56 217.38,880.56 232.58,880.56" fill="none" stroke="#0000ff" stroke-width="1.1"/>
<polygon points="234.37,867.20 226.77,880.20 241.97,880.20" fill="none" stroke="#0000ff" stroke-width="1.1"/>
<polygon points="243.75,866.97 236.15,879.97 251.35,879.97" fill="none" stroke="#0000ff" stroke-width="1.1"/>
<polygon points="253.13,865.91 245.53,878.91 260.73,878.91" fill="none" stroke="#0000ff" stroke-width="1.1"/>
<polygon points="262.52,863.78 254.92,876.78 270.12,876.78" fill="none" stroke="#0000ff" stroke-width="1.1"/>
<polygon points="271.90,860.58 264.30,873.58 279.50,873.58" fill="none" stroke="#0000ff" stroke-width="1.1"/>
<polygon points="281.28,856.28 273.68,869.28 288.88,869.28" fill="none" stroke="#0000ff" stroke-width="1.1"/>
<polygon points="290.67,848.82 283.07,861.82 298.27,861.82" fill="none" stroke="#0000ff" stroke-width="1.1"/>
<polygon points="300.05,842.79 292.45,855.79 307.65,855.79" fill="none" stroke="#0000ff" stroke-width="1.1"/>
<polygon points="309.43,826.73 301.83,839.73 317.03,839.73" fill="none" stroke="#0000ff" stroke-width="1.1"/>
<polygon points="318.82,814.53 311.22,827.53 326.42,827.53" fill="none" stroke="#0000ff" stroke-width="1.1"/>
<polygon points="328.20,783.44 320.60,796.44 335.80,796.44" fill="none" stroke="#0000ff" stroke-width="1.1"/>
<polygon points="337.58,756.69 329.98,769.69 345.18,769.69" fill="none" stroke="#0000ff" stroke-width="1.1"/>
<polygon points="346.97,731.59 339.37,744.59 354.57,744.59" fill="none" stroke="#0000ff" stroke-width="1.1"/>
<polygon points="356.35,697.78 348.75,710.78 363.95,710.78" fill="none" stroke="#0000ff" stroke-width="1.1"/>
<polygon points="365.73,661.76 358.13,674.76 373.33,674.76" fill="none" stroke="#0000ff" stroke-width="1.1"/>
<polygon points="375.12,626.48 367.52,639.48 382.72,639.48" fill="none" stroke="#0000ff" stroke-width="1.1"/>
<polygon points="384.50,600.13 376.90,613.13 392.10,613.13" fill="none" stroke="#0000ff" stroke-width="1.1"/>
<polygon points="393.88,571.21 386.28,584.21 401.48,584.21" fill="none" stroke="#0000ff" stroke-width="1.1"/>
<polygon points="403.27,553.24 395.67,566.24 410.87,566.24" fill="none" stroke="#0000ff" stroke-width="1.1"/>
<polygon points="412.65,536.08 405.05,549.08 420.25,549.08" fill="none" stroke="#0000ff" stroke-width="1.1"/>
<polygon points="422.03,526.27 414.43,539.27 429.63,539.27" fill="none" stroke="#0000ff" stroke-width="1.1"/>
<polygon points="431.42,513.40 423.82,526.40 439.02,526.40" fill="none" stroke="#0000ff" stroke-width="1.1"/>
<polygon points="440.80,508.15 433.20,521.15 448.40,521.15" fill="none" stroke="#0000ff" stroke-width="1.1"/>
<polygon points="450.18,505.94 442.58,518.94 457.78,518.94" fill="none" stroke="#0000ff" stroke-width="1.1"/>
<polygon points="459.57,503.37 451.97,516.37 467.17,516.37" fill="none" stroke="#0000ff" stroke-width="1.1"/>
<polygon points="468.95,501.90 461.35,514.90 476.55,514.90" fill="none" stroke="#0000ff" stroke-width="1.1"/>
<polygon points="478.33,501.90 470.73,514.90 485.93,514.90" fill="none" stroke="#0000ff" stroke-width="1.1"/>
<polygon points="487.72,501.90 480.12,514.90 495.32,514.90" fill="none" stroke="#0000ff" stroke-width="1.1"/>
<polygon points="497.10,501.90 489.50,514.90 504.70,514.90" fill="none" stroke="#0000ff" stroke-width="1.1"/>
<polygon points="506.48,501.90 498.88,514.90 514.08,514.90" fill="none" stroke="#0000ff" stroke-width="1.1"/>
<polygon points="515.87,501.90 508.27,514.90 523.47,514.90" fill="none" stroke="#0000ff" stroke-width="1.1"/>
<polygon points="525.25,501.90 517.65,514.90 532.85,514.90" fill="none" stroke="#0000ff" stroke-width="1.1"/>
</g>
<line x1="410.70" y1="504.10" x2="410.70" y2="880.88" stroke="#000" stroke-width="1.3" stroke-dasharray="4.7 3.76"/>
<path d="M103.0,77.62 V452.58 H666.0" fill="none" stroke="#000" stroke-width="2.3" stroke-linejoin="miter" stroke-linecap="square"/>
<line x1="91.0" y1="448.90" x2="103.0" y2="448.90" stroke="#000" stroke-width="2.3"/>
<line x1="97.0" y1="412.14" x2="103.0" y2="412.14" stroke="#000" stroke-width="2.3"/>
<line x1="91.0" y1="375.38" x2="103.0" y2="375.38" stroke="#000" stroke-width="2.3"/>
<line x1="97.0" y1="338.62" x2="103.0" y2="338.62" stroke="#000" stroke-width="2.3"/>
<line x1="91.0" y1="301.86" x2="103.0" y2="301.86" stroke="#000" stroke-width="2.3"/>
<line x1="97.0" y1="265.10" x2="103.0" y2="265.10" stroke="#000" stroke-width="2.3"/>
<line x1="91.0" y1="228.34" x2="103.0" y2="228.34" stroke="#000" stroke-width="2.3"/>
<line x1="97.0" y1="191.58" x2="103.0" y2="191.58" stroke="#000" stroke-width="2.3"/>
<line x1="91.0" y1="154.82" x2="103.0" y2="154.82" stroke="#000" stroke-width="2.3"/>
<line x1="97.0" y1="118.06" x2="103.0" y2="118.06" stroke="#000" stroke-width="2.3"/>
<line x1="91.0" y1="81.30" x2="103.0" y2="81.30" stroke="#000" stroke-width="2.3"/>
<line x1="103.00" y1="452.58" x2="103.00" y2="464.58" stroke="#000" stroke-width="2.3"/>
<line x1="149.92" y1="452.58" x2="149.92" y2="458.58" stroke="#000" stroke-width="2.3"/>
<line x1="196.83" y1="452.58" x2="196.83" y2="464.58" stroke="#000" stroke-width="2.3"/>
<line x1="243.75" y1="452.58" x2="243.75" y2="458.58" stroke="#000" stroke-width="2.3"/>
<line x1="290.67" y1="452.58" x2="290.67" y2="464.58" stroke="#000" stroke-width="2.3"/>
<line x1="337.58" y1="452.58" x2="337.58" y2="458.58" stroke="#000" stroke-width="2.3"/>
<line x1="384.50" y1="452.58" x2="384.50" y2="464.58" stroke="#000" stroke-width="2.3"/>
<line x1="431.42" y1="452.58" x2="431.42" y2="458.58" stroke="#000" stroke-width="2.3"/>
<line x1="478.33" y1="452.58" x2="478.33" y2="464.58" stroke="#000" stroke-width="2.3"/>
<line x1="525.25" y1="452.58" x2="525.25" y2="458.58" stroke="#000" stroke-width="2.3"/>
<line x1="572.17" y1="452.58" x2="572.17" y2="464.58" stroke="#000" stroke-width="2.3"/>
<line x1="619.08" y1="452.58" x2="619.08" y2="458.58" stroke="#000" stroke-width="2.3"/>
<line x1="666.00" y1="452.58" x2="666.00" y2="464.58" stroke="#000" stroke-width="2.3"/>
<path d="M103.0,506.03 V880.88 H666.0" fill="none" stroke="#000" stroke-width="2.3" stroke-linejoin="miter" stroke-linecap="square"/>
<line x1="91.0" y1="877.20" x2="103.0" y2="877.20" stroke="#000" stroke-width="2.3"/>
<line x1="97.0" y1="840.45" x2="103.0" y2="840.45" stroke="#000" stroke-width="2.3"/>
<line x1="91.0" y1="803.70" x2="103.0" y2="803.70" stroke="#000" stroke-width="2.3"/>
<line x1="97.0" y1="766.95" x2="103.0" y2="766.95" stroke="#000" stroke-width="2.3"/>
<line x1="91.0" y1="730.20" x2="103.0" y2="730.20" stroke="#000" stroke-width="2.3"/>
<line x1="97.0" y1="693.45" x2="103.0" y2="693.45" stroke="#000" stroke-width="2.3"/>
<line x1="91.0" y1="656.70" x2="103.0" y2="656.70" stroke="#000" stroke-width="2.3"/>
<line x1="97.0" y1="619.95" x2="103.0" y2="619.95" stroke="#000" stroke-width="2.3"/>
<line x1="91.0" y1="583.20" x2="103.0" y2="583.20" stroke="#000" stroke-width="2.3"/>
<line x1="97.0" y1="546.45" x2="103.0" y2="546.45" stroke="#000" stroke-width="2.3"/>
<line x1="91.0" y1="509.70" x2="103.0" y2="509.70" stroke="#000" stroke-width="2.3"/>
<line x1="103.00" y1="880.88" x2="103.00" y2="892.88" stroke="#000" stroke-width="2.3"/>
<line x1="196.83" y1="880.88" x2="196.83" y2="886.88" stroke="#000" stroke-width="2.3"/>
<line x1="290.67" y1="880.88" x2="290.67" y2="892.88" stroke="#000" stroke-width="2.3"/>
<line x1="384.50" y1="880.88" x2="384.50" y2="886.88" stroke="#000" stroke-width="2.3"/>
<line x1="478.33" y1="880.88" x2="478.33" y2="892.88" stroke="#000" stroke-width="2.3"/>
<line x1="572.17" y1="880.88" x2="572.17" y2="886.88" stroke="#000" stroke-width="2.3"/>
<line x1="666.00" y1="880.88" x2="666.00" y2="892.88" stroke="#000" stroke-width="2.3"/>
<line x1="310.00" y1="89.60" x2="384.50" y2="91.12" stroke="#000" stroke-width="1"/>
<polygon points="398.00,91.40 383.43,94.50 383.57,87.70" fill="#000"/>
<line x1="472.70" y1="192.00" x2="428.61" y2="205.54" stroke="#000" stroke-width="1"/>
<polygon points="415.70,209.50 428.56,201.99 430.56,208.49" fill="#000"/>
<line x1="343.70" y1="528.00" x2="392.96" y2="535.63" stroke="#000" stroke-width="1"/>
<polygon points="406.30,537.70 391.45,538.84 392.49,532.12" fill="#000"/>
<line x1="452.40" y1="768.30" x2="433.80" y2="762.57" stroke="#000" stroke-width="1"/>
<polygon points="420.90,758.60 435.76,759.62 433.76,766.12" fill="#000"/>
<rect x="442.30" y="262.80" width="7.4" height="7.4" fill="#ff0000"/>
<line x1="470" y1="266.5" x2="520" y2="266.5" stroke="#ff0000" stroke-width="1.3"/>
<circle cx="446.00" cy="293.50" r="4.0" fill="#008000"/>
<line x1="470" y1="293.5" x2="520" y2="293.5" stroke="#008000" stroke-width="1.3"/>
<polygon points="446.00,315.70 441.40,323.70 450.60,323.70" fill="#0000ff"/>
<line x1="470" y1="320.5" x2="520" y2="320.5" stroke="#0000ff" stroke-width="1.3"/>
<rect x="440.70" y="369.70" width="10.6" height="10.6" fill="none" stroke="#ff0000" stroke-width="1.1"/>
<line x1="470" y1="375" x2="517" y2="375" stroke="#0000ff" stroke-width="1.4" stroke-dasharray="5.5 2.8"/>
<circle cx="446.00" cy="401.80" r="6.3" fill="none" stroke="#008000" stroke-width="1"/>
<line x1="470" y1="401.8" x2="517" y2="401.8" stroke="#008000" stroke-width="1.4" stroke-dasharray="5.5 2.8"/>
<polygon points="446.00,420.70 438.40,433.70 453.60,433.70" fill="none" stroke="#0000ff" stroke-width="1.1"/>
<line x1="470" y1="428.5" x2="517" y2="428.5" stroke="#ff0000" stroke-width="1.4" stroke-dasharray="5.5 2.8"/>
</svg>
<div style="position:absolute;top:436.98px;font-size:22px;line-height:1;white-space:nowrap;right:661.70px;">0.0</div>
<div style="position:absolute;top:363.46px;font-size:22px;line-height:1;white-space:nowrap;right:661.70px;">0.2</div>
<div style="position:absolute;top:289.94px;font-size:22px;line-height:1;white-space:nowrap;right:661.70px;">0.4</div>
<div style="position:absolute;top:216.42px;font-size:22px;line-height:1;white-space:nowrap;right:661.70px;">0.6</div>
<div style="position:absolute;top:142.90px;font-size:22px;line-height:1;white-space:nowrap;right:661.70px;">0.8</div>
<div style="position:absolute;top:69.38px;font-size:22px;line-height:1;white-space:nowrap;right:661.70px;">1.0</div>
<div style="position:absolute;top:865.28px;font-size:22px;line-height:1;white-space:nowrap;right:661.70px;">0.0</div>
<div style="position:absolute;top:791.78px;font-size:22px;line-height:1;white-space:nowrap;right:661.70px;">0.2</div>
<div style="position:absolute;top:718.28px;font-size:22px;line-height:1;white-space:nowrap;right:661.70px;">0.4</div>
<div style="position:absolute;top:644.78px;font-size:22px;line-height:1;white-space:nowrap;right:661.70px;">0.6</div>
<div style="position:absolute;top:571.28px;font-size:22px;line-height:1;white-space:nowrap;right:661.70px;">0.8</div>
<div style="position:absolute;top:497.78px;font-size:22px;line-height:1;white-space:nowrap;right:661.70px;">1.0</div>
<div style="position:absolute;top:470.05px;font-size:22px;line-height:1;white-space:nowrap;left:-97.00px;width:400px;text-align:center;">0.56</div>
<div style="position:absolute;top:470.05px;font-size:22px;line-height:1;white-space:nowrap;left:-3.17px;width:400px;text-align:center;">0.57</div>
<div style="position:absolute;top:470.05px;font-size:22px;line-height:1;white-space:nowrap;left:90.67px;width:400px;text-align:center;">0.58</div>
<div style="position:absolute;top:470.05px;font-size:22px;line-height:1;white-space:nowrap;left:184.50px;width:400px;text-align:center;">0.59</div>
<div style="position:absolute;top:470.05px;font-size:22px;line-height:1;white-space:nowrap;left:278.33px;width:400px;text-align:center;">0.60</div>
<div style="position:absolute;top:470.05px;font-size:22px;line-height:1;white-space:nowrap;left:372.17px;width:400px;text-align:center;">0.61</div>
<div style="position:absolute;top:470.05px;font-size:22px;line-height:1;white-space:nowrap;left:466.00px;width:400px;text-align:center;">0.62</div>
<div style="position:absolute;top:898.35px;font-size:22px;line-height:1;white-space:nowrap;left:-97.00px;width:400px;text-align:center;">0.56</div>
<div style="position:absolute;top:898.35px;font-size:22px;line-height:1;white-space:nowrap;left:90.67px;width:400px;text-align:center;">0.58</div>
<div style="position:absolute;top:898.35px;font-size:22px;line-height:1;white-space:nowrap;left:278.33px;width:400px;text-align:center;">0.60</div>
<div style="position:absolute;top:898.35px;font-size:22px;line-height:1;white-space:nowrap;left:466.00px;width:400px;text-align:center;">0.62</div>
<div style="position:absolute;left:32.00px;top:307.60px;width:0;height:0;transform:rotate(-90deg);transform-origin:0 0;"><div style="position:absolute;left:0;top:-22.52px;font-size:26.6px;line-height:1;white-space:nowrap;"><i>R</i></div></div>
<div style="position:absolute;left:43.70px;top:288.60px;width:0;height:0;transform:rotate(-90deg);transform-origin:0 0;"><div style="position:absolute;left:0;top:-13.54px;font-size:16px;line-height:1;white-space:nowrap;">L</div></div>
<div style="position:absolute;left:19.00px;top:279.80px;width:0;height:0;transform:rotate(-90deg);transform-origin:0 0;"><div style="position:absolute;left:0;top:-13.54px;font-size:16px;line-height:1;white-space:nowrap;">or</div></div>
<div style="position:absolute;left:32.00px;top:741.60px;width:0;height:0;transform:rotate(-90deg);transform-origin:0 0;"><div style="position:absolute;left:0;top:-22.52px;font-size:26.6px;line-height:1;white-space:nowrap;"><i>R</i></div></div>
<div style="position:absolute;left:43.70px;top:722.60px;width:0;height:0;transform:rotate(-90deg);transform-origin:0 0;"><div style="position:absolute;left:0;top:-13.54px;font-size:16px;line-height:1;white-space:nowrap;">L</div></div>
<div style="position:absolute;left:19.00px;top:714.80px;width:0;height:0;transform:rotate(-90deg);transform-origin:0 0;"><div style="position:absolute;left:0;top:-13.54px;font-size:16px;line-height:1;white-space:nowrap;">and</div></div>
<div style="position:absolute;top:936.38px;font-size:26.6px;line-height:1;white-space:nowrap;left:377.80px;"><i>p</i></div>
<div style="position:absolute;top:76.19px;font-size:26px;line-height:1;white-space:nowrap;left:210.20px;"><i>R</i>*<span style="font-size:1.08em;position:relative;top:0.12em;line-height:0;letter-spacing:-0.05em">≈</span>0.98</div>
<div style="position:absolute;top:176.49px;font-size:26px;line-height:1;white-space:nowrap;left:483.80px;"><i>R</i>*<span style="font-size:1.08em;position:relative;top:0.12em;line-height:0;letter-spacing:-0.05em">≈</span>0.69</div>
<div style="position:absolute;top:516.49px;font-size:26px;line-height:1;white-space:nowrap;left:259.00px;"><i>R</i>*<span style="font-size:1.08em;position:relative;top:0.12em;line-height:0;letter-spacing:-0.05em">≈</span>0.9</div>
<div style="position:absolute;top:761.79px;font-size:26px;line-height:1;white-space:nowrap;left:456.70px;"><i>R</i>*<span style="font-size:1.08em;position:relative;top:0.12em;line-height:0;letter-spacing:-0.05em">≈</span>0.35</div>
<div style="position:absolute;top:230.03px;font-size:21.7px;line-height:1;white-space:nowrap;left:422.00px;">open boundary conditions</div>
<div style="position:absolute;top:336.93px;font-size:21.7px;line-height:1;white-space:nowrap;left:422.00px;">physical percolation</div>
<div style="position:absolute;top:256.03px;font-size:21.7px;line-height:1;white-space:nowrap;left:531.60px;"><i>L</i> = 100</div>
<div style="position:absolute;top:283.03px;font-size:21.7px;line-height:1;white-space:nowrap;left:531.60px;"><i>L</i> = 200</div>
<div style="position:absolute;top:309.93px;font-size:21.7px;line-height:1;white-space:nowrap;left:531.60px;"><i>L</i> = 400</div>
<div style="position:absolute;top:363.93px;font-size:21.7px;line-height:1;white-space:nowrap;left:531.60px;"><i>L</i> = 100</div>
<div style="position:absolute;top:391.03px;font-size:21.7px;line-height:1;white-space:nowrap;left:531.60px;"><i>L</i> = 200</div>
<div style="position:absolute;top:418.53px;font-size:21.7px;line-height:1;white-space:nowrap;left:531.60px;"><i>L</i> = 400</div>
</body></html>
